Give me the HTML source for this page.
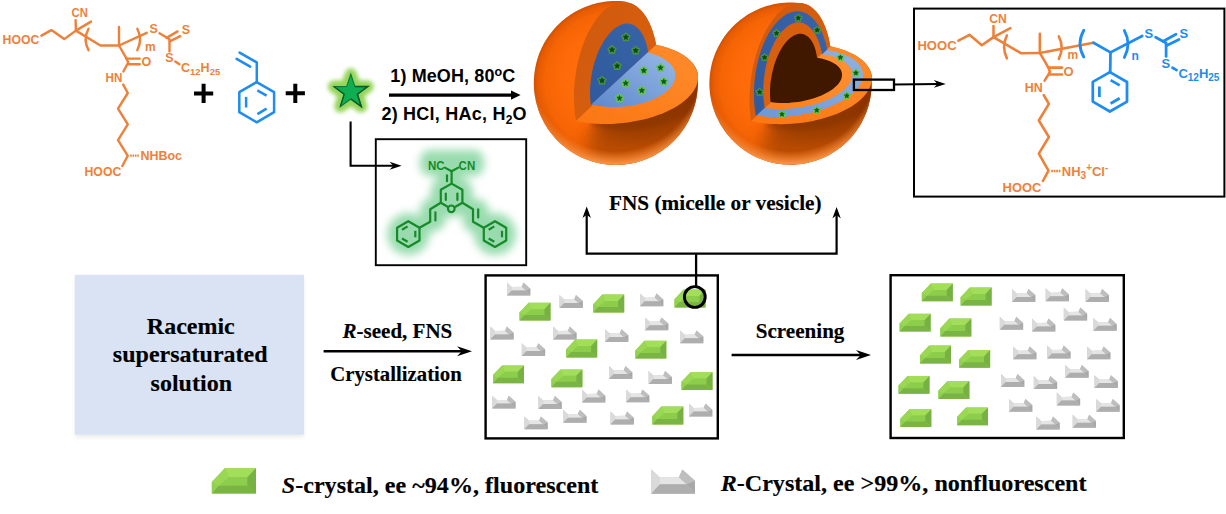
<!DOCTYPE html>
<html lang="en"><head><meta charset="utf-8"><title>FNS chiral crystallization scheme</title>
<style>html,body{margin:0;padding:0;background:#fff;}body{width:1226px;height:514px;overflow:hidden;}svg{display:block;}</style>
</head><body>
<svg width="1226" height="514" viewBox="0 0 1226 514">
<defs>
<filter id="blur3" x="-50%" y="-50%" width="200%" height="200%"><feGaussianBlur stdDeviation="2.2"/></filter>
<filter id="blur5" x="-50%" y="-50%" width="200%" height="200%"><feGaussianBlur stdDeviation="4"/></filter>
<filter id="blur6" x="-50%" y="-50%" width="200%" height="200%"><feGaussianBlur stdDeviation="7"/></filter>
<filter id="blur8" x="-60%" y="-100%" width="220%" height="300%"><feGaussianBlur stdDeviation="9"/></filter>
<radialGradient id="sphga" gradientUnits="userSpaceOnUse" cx="615.8" cy="83.0" r="82.0" fx="607.8" fy="73.0"><stop offset="0" stop-color="#FF7010"/><stop offset="0.6" stop-color="#FE6A08"/><stop offset="0.85" stop-color="#F56405"/><stop offset="0.95" stop-color="#E65B03"/><stop offset="1" stop-color="#D25102"/></radialGradient>
<radialGradient id="sphgb" gradientUnits="userSpaceOnUse" cx="790.5" cy="83.6" r="81.1" fx="782.5" fy="73.6"><stop offset="0" stop-color="#FF7010"/><stop offset="0.6" stop-color="#FE6A08"/><stop offset="0.85" stop-color="#F56405"/><stop offset="0.95" stop-color="#E65B03"/><stop offset="1" stop-color="#D25102"/></radialGradient>
<radialGradient id="sphrim" cx="0.5" cy="0.5" r="0.5"><stop offset="0" stop-color="#FF9440" stop-opacity="0"/><stop offset="0.86" stop-color="#FF9440" stop-opacity="0"/><stop offset="1" stop-color="#FF9848" stop-opacity="1"/></radialGradient>
<linearGradient id="vface" x1="0" y1="0" x2="1" y2="1"><stop offset="0" stop-color="#CE590E"/><stop offset="1" stop-color="#DB610E"/></linearGradient>
<linearGradient id="vface2" x1="0" y1="0" x2="1" y2="1"><stop offset="0" stop-color="#D45C0E"/><stop offset="1" stop-color="#E0660F"/></linearGradient>
<linearGradient id="hface2" x1="0" y1="1" x2="1" y2="0"><stop offset="0" stop-color="#FC7E18"/><stop offset="1" stop-color="#FF9234"/></linearGradient>
<linearGradient id="hface" x1="0" y1="1" x2="1" y2="0"><stop offset="0" stop-color="#FA7612"/><stop offset="1" stop-color="#FF8C2C"/></linearGradient>
<linearGradient id="vblue" x1="0" y1="1" x2="1" y2="0"><stop offset="0" stop-color="#2F5A9E"/><stop offset="1" stop-color="#3863A6"/></linearGradient>
<linearGradient id="hblue" x1="0" y1="1" x2="1" y2="0"><stop offset="0" stop-color="#5D88CC"/><stop offset="1" stop-color="#98B9E6"/></linearGradient>
<linearGradient id="hblue2" x1="0" y1="1" x2="1" y2="0"><stop offset="0" stop-color="#6C97D6"/><stop offset="1" stop-color="#8FB2E2"/></linearGradient>
</defs>
<rect width="1226" height="514" fill="#fff"/>
<text x="2.6" y="43.8" font-family='"Liberation Sans", Arial, sans-serif' font-size="12.5" font-weight="bold" fill="#EE8139" text-anchor="start" textLength="36.8" lengthAdjust="spacingAndGlyphs" >HOOC</text>
<path d="M41.4 35.6 L51.4 30.1 L64.2 39.1 L75.9 30.6" fill="none" stroke="#EE8139" stroke-width="2.4" stroke-linecap="round" stroke-linejoin="round" />
<text x="71.6" y="16.8" font-family='"Liberation Sans", Arial, sans-serif' font-size="12.5" font-weight="bold" fill="#EE8139" text-anchor="start" textLength="16.2" lengthAdjust="spacingAndGlyphs" >CN</text>
<path d="M75.9 30.6 L75.6 20.1" fill="none" stroke="#EE8139" stroke-width="2.4" stroke-linecap="round" stroke-linejoin="round" />
<path d="M75.9 30.6 L91.0 21.6" fill="none" stroke="#EE8139" stroke-width="2.4" stroke-linecap="round" stroke-linejoin="round" />
<path d="M75.9 30.6 L100.4 45.5 L119.0 45.5" fill="none" stroke="#EE8139" stroke-width="2.4" stroke-linecap="round" stroke-linejoin="round" />
<path d="M119.0 45.5 L119.0 26.9" fill="none" stroke="#EE8139" stroke-width="2.4" stroke-linecap="round" stroke-linejoin="round" />
<path d="M119.0 45.5 L146.7 32.8" fill="none" stroke="#EE8139" stroke-width="2.4" stroke-linecap="round" stroke-linejoin="round" />
<path d="M88.5 28.8 Q82.7 39.5 88.5 50.2" fill="none" stroke="#EE8139" stroke-width="2.4" stroke-linecap="round"/>
<path d="M137.3 28.8 Q142.9 39.5 137.3 50.2" fill="none" stroke="#EE8139" stroke-width="2.4" stroke-linecap="round"/>
<text x="145.1" y="51.1" font-family='"Liberation Sans", Arial, sans-serif' font-size="12" font-weight="bold" fill="#EE8139" text-anchor="start" >m</text>
<text x="149.4" y="33.4" font-family='"Liberation Sans", Arial, sans-serif' font-size="12.5" font-weight="bold" fill="#EE8139" text-anchor="start" >S</text>
<path d="M159.5 33.3 L169.5 39.2" fill="none" stroke="#EE8139" stroke-width="2.4" stroke-linecap="round" stroke-linejoin="round" />
<path d="M166.6 37.9 L177.6 31.4" fill="none" stroke="#EE8139" stroke-width="2.4" stroke-linecap="round" stroke-linejoin="round" />
<path d="M169.8 41.4 L180.3 36.2" fill="none" stroke="#EE8139" stroke-width="2.4" stroke-linecap="round" stroke-linejoin="round" />
<text x="181.8" y="34.4" font-family='"Liberation Sans", Arial, sans-serif' font-size="12.5" font-weight="bold" fill="#EE8139" text-anchor="start" >S</text>
<path d="M169.5 40.0 L169.5 51.4" fill="none" stroke="#EE8139" stroke-width="2.4" stroke-linecap="round" stroke-linejoin="round" />
<text x="165.2" y="62.0" font-family='"Liberation Sans", Arial, sans-serif' font-size="12.5" font-weight="bold" fill="#EE8139" text-anchor="start" >S</text>
<path d="M175.3 61.6 L179.4 64.3" fill="none" stroke="#EE8139" stroke-width="2.4" stroke-linecap="round" stroke-linejoin="round" />
<text x="181.0" y="72.0" font-family='"Liberation Sans", Arial, sans-serif' font-size="12.5" font-weight="bold" fill="#EE8139">C<tspan font-size="9.5" dy="2.8">12</tspan><tspan dy="-2.8">H</tspan><tspan font-size="9.5" dy="2.8">25</tspan></text>
<path d="M119.0 45.5 L126.5 58.6" fill="none" stroke="#EE8139" stroke-width="2.4" stroke-linecap="round" stroke-linejoin="round" />
<path d="M126.5 58.6 L139.7 58.6" fill="none" stroke="#EE8139" stroke-width="2.4" stroke-linecap="round" stroke-linejoin="round" />
<path d="M128.0 64.2 L139.7 64.2" fill="none" stroke="#EE8139" stroke-width="2.4" stroke-linecap="round" stroke-linejoin="round" />
<text x="141.6" y="66.0" font-family='"Liberation Sans", Arial, sans-serif' font-size="12.5" font-weight="bold" fill="#EE8139" text-anchor="start" >O</text>
<path d="M126.5 58.6 L128.2 62.5 L123.4 71.5" fill="none" stroke="#EE8139" stroke-width="2.4" stroke-linecap="round" stroke-linejoin="round" />
<text x="105.6" y="81.6" font-family='"Liberation Sans", Arial, sans-serif' font-size="12.5" font-weight="bold" fill="#EE8139" text-anchor="start" textLength="16.8" lengthAdjust="spacingAndGlyphs" >HN</text>
<path d="M123.2 84.6 L127.8 93.0 L118.0 108.6 L127.8 124.4 L118.0 140.1 L127.8 155.8 L122.3 166.0" fill="none" stroke="#EE8139" stroke-width="2.4" stroke-linecap="round" stroke-linejoin="round" />
<path d="M130.2 155.6 H138.8" stroke="#EE8139" stroke-width="2.2" stroke-dasharray="1.6 0.75" fill="none"/>
<text x="140.4" y="160.2" font-family='"Liberation Sans", Arial, sans-serif' font-size="12.5" font-weight="bold" fill="#EE8139" text-anchor="start" textLength="41.6" lengthAdjust="spacingAndGlyphs" >NHBoc</text>
<text x="84.5" y="175.8" font-family='"Liberation Sans", Arial, sans-serif' font-size="12.5" font-weight="bold" fill="#EE8139" text-anchor="start" textLength="36.8" lengthAdjust="spacingAndGlyphs" >HOOC</text>
<path d="M194.0 93.4 H213.2 M203.6 83.80000000000001 V103.0" stroke="#000" stroke-width="4.0" fill="none"/>
<path d="M256.7 82.1 L274.1 92.2 L274.1 112.2 L256.7 122.3 L239.3 112.2 L239.3 92.2 Z" fill="none" stroke="#1E8CF0" stroke-width="2.5" stroke-linejoin="round"/>
<path d="M257.4 90.3 L266.6 95.7" fill="none" stroke="#1E8CF0" stroke-width="2.5" stroke-linecap="butt" stroke-linejoin="round" />
<path d="M266.6 108.7 L257.4 114.1" fill="none" stroke="#1E8CF0" stroke-width="2.5" stroke-linecap="butt" stroke-linejoin="round" />
<path d="M246.1 107.5 L246.1 96.9" fill="none" stroke="#1E8CF0" stroke-width="2.5" stroke-linecap="butt" stroke-linejoin="round" />
<path d="M256.8 81.9 L256.8 62.4 L239.6 52.6" fill="none" stroke="#1E8CF0" stroke-width="2.5" stroke-linecap="round" stroke-linejoin="round" />
<path d="M250.2 66.6 L236.6 58.8" fill="none" stroke="#1E8CF0" stroke-width="2.5" stroke-linecap="round" stroke-linejoin="round" />
<path d="M285.7 93.3 H304.90000000000003 M295.3 83.7 V102.89999999999999" stroke="#000" stroke-width="4.0" fill="none"/>
<path d="M350.8 74.3 L354.9 86.5 L367.7 86.6 L357.4 94.2 L361.3 106.5 L350.8 99.0 L340.3 106.5 L344.2 94.2 L333.9 86.6 L346.7 86.5 Z" fill="#8FD14F" stroke="#8FD14F" stroke-width="12" stroke-linejoin="round" filter="url(#blur3)" opacity="0.95"/>
<path d="M350.8 74.3 L354.9 86.5 L367.7 86.6 L357.4 94.2 L361.3 106.5 L350.8 99.0 L340.3 106.5 L344.2 94.2 L333.9 86.6 L346.7 86.5 Z" fill="#0FAE50" stroke="#0B7A3A" stroke-width="1.1" stroke-linejoin="miter"/>
<path d="M354.9 86.5 L367.7 86.6 L357.4 94.2 L361.3 106.5 L350.8 99.0" fill="none" stroke="#0A5A2C" stroke-width="1.5" stroke-linejoin="miter"/>
<path d="M340.3 106.5 L344.2 94.2 L333.9 86.6" fill="none" stroke="#0A5A2C" stroke-width="1.2" stroke-linejoin="miter"/>
<path d="M389 95.1 H512.0" stroke="#000" stroke-width="3.3" fill="none"/>
<path d="M520.6 95.1 L511.0 90.5 L511.0 99.69999999999999 Z" fill="#000"/>
<text x="390.3" y="82.2" font-family='"Liberation Sans", Arial, sans-serif' font-size="18" font-weight="bold" fill="#000" textLength="125" lengthAdjust="spacing">1) MeOH, 80<tspan font-size="12.5" dy="-6.4">o</tspan><tspan dy="6.4">C</tspan></text>
<text x="381.4" y="120.0" font-family='"Liberation Sans", Arial, sans-serif' font-size="18" font-weight="bold" fill="#000" textLength="145.2" lengthAdjust="spacing">2) HCl, HAc, H<tspan font-size="12" dy="3.8">2</tspan><tspan dy="-3.8">O</tspan></text>
<path d="M350.6 121.6 V165.7 H395" stroke="#000" stroke-width="2.1" fill="none" stroke-linejoin="miter"/>
<path d="M401.6 165.7 L389.6 169.7 L393.2 165.7 L389.6 161.7 Z" fill="#000"/>
<rect x="375.8" y="139.2" width="150.4" height="126" fill="none" stroke="#000" stroke-width="1.9"/>
<g filter="url(#blur5)" opacity="0.9"><path d="M444.9 167.6 L451.6 171.2 L458.3 167.6 M451.6 171.2 L451.6 183.6 M447.0 175.4 L447.0 181.2 M451.6 183.6 L462.4 189.8 L462.4 202.8 L455.4 206.8 M451.6 183.6 L440.8 189.8 L440.8 202.8 L447.6 206.8 M445.8 193.6 L445.8 200.0 M457.4 193.6 L457.4 200.0 M440.8 202.8 L430.2 209.2 L430.2 221.8 L419.5 227.8 M435.4 212.4 L435.4 220.4 M462.4 202.8 L473.0 209.2 L473.0 221.8 L483.7 227.8 M478.2 209.4 L478.2 217.6" stroke="#8ED8A6" stroke-width="20" fill="none" stroke-linecap="round" stroke-linejoin="round"/><circle cx="408.3" cy="234.1" r="21" fill="#8ED8A6"/><circle cx="495.0" cy="234.1" r="21" fill="#8ED8A6"/><rect x="420" y="150" width="64" height="26" rx="10" fill="#8ED8A6"/></g>
<path d="M444.9 167.6 L451.6 171.2 L458.3 167.6" fill="none" stroke="#168A28" stroke-width="2.2" stroke-linecap="round" stroke-linejoin="round" />
<path d="M451.6 171.2 L451.6 183.6" fill="none" stroke="#168A28" stroke-width="2.2" stroke-linecap="round" stroke-linejoin="round" />
<path d="M447.0 175.4 L447.0 181.2" fill="none" stroke="#168A28" stroke-width="2.2" stroke-linecap="round" stroke-linejoin="round" />
<path d="M451.6 183.6 L462.4 189.8 L462.4 202.8 L455.4 206.8" fill="none" stroke="#168A28" stroke-width="2.2" stroke-linecap="round" stroke-linejoin="round" />
<path d="M451.6 183.6 L440.8 189.8 L440.8 202.8 L447.6 206.8" fill="none" stroke="#168A28" stroke-width="2.2" stroke-linecap="round" stroke-linejoin="round" />
<path d="M445.8 193.6 L445.8 200.0" fill="none" stroke="#168A28" stroke-width="2.2" stroke-linecap="round" stroke-linejoin="round" />
<path d="M457.4 193.6 L457.4 200.0" fill="none" stroke="#168A28" stroke-width="2.2" stroke-linecap="round" stroke-linejoin="round" />
<path d="M440.8 202.8 L430.2 209.2 L430.2 221.8 L419.5 227.8" fill="none" stroke="#168A28" stroke-width="2.2" stroke-linecap="round" stroke-linejoin="round" />
<path d="M435.4 212.4 L435.4 220.4" fill="none" stroke="#168A28" stroke-width="2.2" stroke-linecap="round" stroke-linejoin="round" />
<path d="M462.4 202.8 L473.0 209.2 L473.0 221.8 L483.7 227.8" fill="none" stroke="#168A28" stroke-width="2.2" stroke-linecap="round" stroke-linejoin="round" />
<path d="M478.2 209.4 L478.2 217.6" fill="none" stroke="#168A28" stroke-width="2.2" stroke-linecap="round" stroke-linejoin="round" />
<path d="M408.3 221.2 L419.5 227.7 L419.5 240.5 L408.3 247.0 L397.1 240.5 L397.1 227.7 Z" fill="none" stroke="#168A28" stroke-width="2.2" stroke-linejoin="round"/>
<path d="M415.3 230.8 L415.3 237.3" fill="none" stroke="#168A28" stroke-width="2.2" stroke-linecap="butt" stroke-linejoin="round" />
<path d="M407.6 241.8 L402.0 238.5" fill="none" stroke="#168A28" stroke-width="2.2" stroke-linecap="butt" stroke-linejoin="round" />
<path d="M402.0 229.7 L407.6 226.4" fill="none" stroke="#168A28" stroke-width="2.2" stroke-linecap="butt" stroke-linejoin="round" />
<path d="M495.0 221.2 L506.2 227.7 L506.2 240.5 L495.0 247.0 L483.8 240.5 L483.8 227.7 Z" fill="none" stroke="#168A28" stroke-width="2.2" stroke-linejoin="round"/>
<path d="M502.0 230.8 L502.0 237.3" fill="none" stroke="#168A28" stroke-width="2.2" stroke-linecap="butt" stroke-linejoin="round" />
<path d="M494.3 241.8 L488.7 238.5" fill="none" stroke="#168A28" stroke-width="2.2" stroke-linecap="butt" stroke-linejoin="round" />
<path d="M488.7 229.7 L494.3 226.4" fill="none" stroke="#168A28" stroke-width="2.2" stroke-linecap="butt" stroke-linejoin="round" />
<text x="428.0" y="170.0" font-family='"Liberation Sans", Arial, sans-serif' font-size="12" font-weight="bold" fill="#168A28" text-anchor="start" textLength="16.6" lengthAdjust="spacingAndGlyphs" >NC</text>
<text x="458.6" y="170.0" font-family='"Liberation Sans", Arial, sans-serif' font-size="12" font-weight="bold" fill="#168A28" text-anchor="start" textLength="16.6" lengthAdjust="spacingAndGlyphs" >CN</text>
<circle cx="451.3" cy="208.8" r="3.3" fill="none" stroke="#168A28" stroke-width="2.2"/>
<clipPath id="clipa"><path d="M626.2 1.7 L623.3 1.3 L620.4 1.1 L617.5 1.0 L614.6 1.0 L611.8 1.1 L608.9 1.3 L606.0 1.6 L603.1 2.0 L600.3 2.5 L597.5 3.1 L594.7 3.8 L591.9 4.6 L589.2 5.5 L586.4 6.4 L583.8 7.5 L581.1 8.7 L578.5 10.0 L576.0 11.3 L573.5 12.8 L571.0 14.3 L568.7 15.9 L566.3 17.6 L564.0 19.4 L561.8 21.3 L559.7 23.2 L557.6 25.2 L555.6 27.3 L553.7 29.4 L551.9 31.7 L550.1 33.9 L548.4 36.3 L546.8 38.7 L545.3 41.1 L543.9 43.6 L542.5 46.2 L541.3 48.8 L540.1 51.4 L539.0 54.1 L538.1 56.8 L537.2 59.6 L536.4 62.4 L535.8 65.2 L535.2 68.0 L534.7 70.9 L534.3 73.7 L534.1 76.6 L533.9 79.5 L533.8 82.4 L533.8 85.2 L534.0 88.1 L534.2 91.0 L534.5 93.9 L535.0 96.7 L535.5 99.6 L536.1 102.4 L536.9 105.2 L537.7 107.9 L538.6 110.7 L539.6 113.4 L540.7 116.0 L542.0 118.7 L543.3 121.2 L544.6 123.8 L546.1 126.2 L547.7 128.7 L549.3 131.0 L551.1 133.3 L552.9 135.6 L554.8 137.8 L556.7 139.9 L558.8 141.9 L560.9 143.9 L563.1 145.8 L565.3 147.6 L567.6 149.3 L570.0 151.0 L572.4 152.6 L574.9 154.1 L577.4 155.5 L580.0 156.8 L582.6 158.0 L585.3 159.1 L588.0 160.1 L590.7 161.1 L593.4 161.9 L596.2 162.6 L599.1 163.3 L601.9 163.8 L604.7 164.3 L607.6 164.6 L610.5 164.8 L613.4 165.0 L616.3 165.0 L619.1 164.9 L622.0 164.8 L624.9 164.5 L627.8 164.1 L630.6 163.7 L633.4 163.1 L636.2 162.4 L639.0 161.6 L641.8 160.8 L644.5 159.8 L647.2 158.8 L649.8 157.6 L652.4 156.4 L655.0 155.0 L657.5 153.6 L660.0 152.1 L662.4 150.5 L664.7 148.8 L667.0 147.1 L669.2 145.2 L671.4 143.3 L673.5 141.3 L675.5 139.2 L677.4 137.1 L679.3 134.9 L681.1 132.6 L682.8 130.3 L684.4 127.9 L685.9 125.5 L687.4 123.0 L688.8 120.4 L690.0 117.8 L691.2 115.2 L692.3 112.5 L693.3 109.8 L694.2 107.1 L695.0 104.3 L695.7 101.5 L696.3 98.7 L696.8 95.8 L697.2 93.0 L697.5 90.1 L697.7 87.2 L697.8 84.3 L697.8 81.5 L697.7 78.6 L697.5 75.7 L697.9 75.7 L697.8 74.8 L697.7 74.0 L697.5 73.1 L697.3 72.3 L697.1 71.4 L696.8 70.6 L696.5 69.8 L696.1 68.9 L695.7 68.1 L695.3 67.3 L694.9 66.5 L694.4 65.7 L693.8 64.9 L693.3 64.2 L692.7 63.4 L692.1 62.6 L691.4 61.9 L690.7 61.1 L690.0 60.4 L689.2 59.7 L688.4 59.0 L687.6 58.3 L686.7 57.6 L685.8 56.9 L684.9 56.2 L683.9 55.6 L682.9 54.9 L681.9 54.3 L680.9 53.7 L679.8 53.1 L678.7 52.5 L677.6 51.9 L676.4 51.3 L675.2 50.8 L674.0 50.3 L672.8 49.7 L671.5 49.2 L670.2 48.7 L668.9 48.3 L667.6 47.8 L666.2 47.4 L664.8 46.9 L663.4 46.5 L662.0 46.1 L660.6 45.7 L659.1 45.4 L657.6 45.0 L656.1 44.7 L655.8 43.2 L655.5 41.7 L655.2 40.3 L654.8 38.8 L654.5 37.4 L654.1 36.0 L653.7 34.6 L653.3 33.2 L652.9 31.9 L652.5 30.6 L652.0 29.3 L651.5 28.0 L651.0 26.8 L650.5 25.6 L650.0 24.4 L649.5 23.2 L648.9 22.1 L648.4 21.0 L647.8 19.9 L647.2 18.8 L646.6 17.8 L646.0 16.8 L645.3 15.8 L644.7 14.9 L644.0 14.0 L643.4 13.1 L642.7 12.2 L642.0 11.4 L641.3 10.6 L640.6 9.9 L639.8 9.2 L639.1 8.5 L638.3 7.8 L637.6 7.2 L636.8 6.6 L636.0 6.1 L635.2 5.6 L634.4 5.1 L633.6 4.6 L632.8 4.2 L632.0 3.8 L631.2 3.5 L630.3 3.2 L629.5 2.9 L628.7 2.7 L627.8 2.5 L627.0 2.3 L626.1 2.2 Z"/></clipPath>
<path d="M626.2 1.7 L623.3 1.3 L620.4 1.1 L617.5 1.0 L614.6 1.0 L611.8 1.1 L608.9 1.3 L606.0 1.6 L603.1 2.0 L600.3 2.5 L597.5 3.1 L594.7 3.8 L591.9 4.6 L589.2 5.5 L586.4 6.4 L583.8 7.5 L581.1 8.7 L578.5 10.0 L576.0 11.3 L573.5 12.8 L571.0 14.3 L568.7 15.9 L566.3 17.6 L564.0 19.4 L561.8 21.3 L559.7 23.2 L557.6 25.2 L555.6 27.3 L553.7 29.4 L551.9 31.7 L550.1 33.9 L548.4 36.3 L546.8 38.7 L545.3 41.1 L543.9 43.6 L542.5 46.2 L541.3 48.8 L540.1 51.4 L539.0 54.1 L538.1 56.8 L537.2 59.6 L536.4 62.4 L535.8 65.2 L535.2 68.0 L534.7 70.9 L534.3 73.7 L534.1 76.6 L533.9 79.5 L533.8 82.4 L533.8 85.2 L534.0 88.1 L534.2 91.0 L534.5 93.9 L535.0 96.7 L535.5 99.6 L536.1 102.4 L536.9 105.2 L537.7 107.9 L538.6 110.7 L539.6 113.4 L540.7 116.0 L542.0 118.7 L543.3 121.2 L544.6 123.8 L546.1 126.2 L547.7 128.7 L549.3 131.0 L551.1 133.3 L552.9 135.6 L554.8 137.8 L556.7 139.9 L558.8 141.9 L560.9 143.9 L563.1 145.8 L565.3 147.6 L567.6 149.3 L570.0 151.0 L572.4 152.6 L574.9 154.1 L577.4 155.5 L580.0 156.8 L582.6 158.0 L585.3 159.1 L588.0 160.1 L590.7 161.1 L593.4 161.9 L596.2 162.6 L599.1 163.3 L601.9 163.8 L604.7 164.3 L607.6 164.6 L610.5 164.8 L613.4 165.0 L616.3 165.0 L619.1 164.9 L622.0 164.8 L624.9 164.5 L627.8 164.1 L630.6 163.7 L633.4 163.1 L636.2 162.4 L639.0 161.6 L641.8 160.8 L644.5 159.8 L647.2 158.8 L649.8 157.6 L652.4 156.4 L655.0 155.0 L657.5 153.6 L660.0 152.1 L662.4 150.5 L664.7 148.8 L667.0 147.1 L669.2 145.2 L671.4 143.3 L673.5 141.3 L675.5 139.2 L677.4 137.1 L679.3 134.9 L681.1 132.6 L682.8 130.3 L684.4 127.9 L685.9 125.5 L687.4 123.0 L688.8 120.4 L690.0 117.8 L691.2 115.2 L692.3 112.5 L693.3 109.8 L694.2 107.1 L695.0 104.3 L695.7 101.5 L696.3 98.7 L696.8 95.8 L697.2 93.0 L697.5 90.1 L697.7 87.2 L697.8 84.3 L697.8 81.5 L697.7 78.6 L697.5 75.7 L697.9 75.7 L697.8 74.8 L697.7 74.0 L697.5 73.1 L697.3 72.3 L697.1 71.4 L696.8 70.6 L696.5 69.8 L696.1 68.9 L695.7 68.1 L695.3 67.3 L694.9 66.5 L694.4 65.7 L693.8 64.9 L693.3 64.2 L692.7 63.4 L692.1 62.6 L691.4 61.9 L690.7 61.1 L690.0 60.4 L689.2 59.7 L688.4 59.0 L687.6 58.3 L686.7 57.6 L685.8 56.9 L684.9 56.2 L683.9 55.6 L682.9 54.9 L681.9 54.3 L680.9 53.7 L679.8 53.1 L678.7 52.5 L677.6 51.9 L676.4 51.3 L675.2 50.8 L674.0 50.3 L672.8 49.7 L671.5 49.2 L670.2 48.7 L668.9 48.3 L667.6 47.8 L666.2 47.4 L664.8 46.9 L663.4 46.5 L662.0 46.1 L660.6 45.7 L659.1 45.4 L657.6 45.0 L656.1 44.7 L655.8 43.2 L655.5 41.7 L655.2 40.3 L654.8 38.8 L654.5 37.4 L654.1 36.0 L653.7 34.6 L653.3 33.2 L652.9 31.9 L652.5 30.6 L652.0 29.3 L651.5 28.0 L651.0 26.8 L650.5 25.6 L650.0 24.4 L649.5 23.2 L648.9 22.1 L648.4 21.0 L647.8 19.9 L647.2 18.8 L646.6 17.8 L646.0 16.8 L645.3 15.8 L644.7 14.9 L644.0 14.0 L643.4 13.1 L642.7 12.2 L642.0 11.4 L641.3 10.6 L640.6 9.9 L639.8 9.2 L639.1 8.5 L638.3 7.8 L637.6 7.2 L636.8 6.6 L636.0 6.1 L635.2 5.6 L634.4 5.1 L633.6 4.6 L632.8 4.2 L632.0 3.8 L631.2 3.5 L630.3 3.2 L629.5 2.9 L628.7 2.7 L627.8 2.5 L627.0 2.3 L626.1 2.2 Z" fill="url(#sphga)"/>
<g clip-path="url(#clipa)">
<path d="M668.1 57.7 L672.7 59.2 L677.1 60.8 L681.3 62.6 L685.2 64.5 L688.9 66.5 L692.4 68.7 L695.6 71.0 L698.5 73.4 L701.1 75.9 L703.3 78.5 L705.3 81.1 L706.9 83.9 L708.2 86.6 L709.1 89.4 L709.7 92.3 L710.0 95.1 L709.9 98.0 L709.4 100.8 L708.6 103.7 L707.5 106.5 L706.0 109.2 L704.2 111.9 L702.0 114.5 L699.6 117.1 L696.8 119.5 L693.7 121.9 L690.4 124.1 L686.8 126.2 L682.9 128.2 L678.8 130.1 L674.5 131.8 L670.0 133.3 L665.3 134.7 L660.4 135.9 L655.5 137.0 L650.4 137.9 L645.1 138.6 L639.9 139.1 L634.5 139.4 L629.2 139.6 L623.8 139.5 L618.5 139.3 L613.2 138.9 L608.0 138.3 L602.8 137.5 L597.8 136.5 L592.9 135.4 L588.1 134.1 Z" fill="#7A2E00" opacity="0.6" filter="url(#blur6)"/>
<path d="M670.1 49.7 L674.7 50.9 L679.1 52.3 L683.3 53.8 L687.2 55.4 L690.9 57.2 L694.4 59.2 L697.6 61.2 L700.5 63.4 L703.1 65.7 L705.3 68.0 L707.3 70.5 L708.9 73.0 L710.2 75.6 L711.1 78.3 L711.7 80.9 L712.0 83.7 L711.9 86.4 L711.4 89.1 L710.6 91.9 L709.5 94.6 L708.0 97.3 L706.2 99.9 L704.0 102.5 L701.6 105.1 L698.8 107.5 L695.7 109.9 L692.4 112.2 L688.8 114.4 L684.9 116.4 L680.8 118.4 L676.5 120.2 L672.0 121.9 L667.3 123.4 L662.4 124.8 L657.5 126.0 L652.4 127.0 L647.1 127.9 L641.9 128.7 L636.5 129.2 L631.2 129.6 L625.8 129.8 L620.5 129.8 L615.2 129.6 L610.0 129.2 L604.8 128.7 L599.8 128.0 L594.9 127.1 L590.1 126.1 Z" fill="#702800" opacity="0.45" filter="url(#blur3)"/>
<ellipse cx="639.8" cy="138.0" rx="56" ry="22" fill="#8E3A00" opacity="0.6" filter="url(#blur8)" transform="rotate(-14 639.8 138.0)"/>
<circle cx="615.8" cy="67.0" r="98.0" fill="url(#sphrim)"/>
</g>
<path d="M656.1 44.7 L655.2 40.1 L654.0 35.7 L652.8 31.5 L651.3 27.5 L649.8 23.8 L648.0 20.3 L646.2 17.1 L644.2 14.2 L642.1 11.5 L639.8 9.2 L637.5 7.2 L635.1 5.5 L632.6 4.1 L630.0 3.1 L627.4 2.4 L624.7 2.0 L622.0 2.0 L619.3 2.4 L616.5 3.1 L613.8 4.1 L611.0 5.5 L608.3 7.2 L605.6 9.2 L603.0 11.6 L600.4 14.2 L597.9 17.2 L595.4 20.4 L593.1 23.9 L590.8 27.7 L588.7 31.6 L586.6 35.8 L584.7 40.2 L583.0 44.8 L581.3 49.6 L579.9 54.5 L578.5 59.5 L577.4 64.6 L576.4 69.8 L575.5 75.0 L574.9 80.3 L574.4 85.6 L574.1 90.9 L574.0 96.1 L574.1 101.3 L574.3 106.5 L574.7 111.5 L575.3 116.4 L576.1 121.1 Z" fill="url(#vface)"/>
<path d="M656.1 44.7 L660.7 45.8 L665.1 47.0 L669.3 48.4 L673.2 49.9 L676.9 51.6 L680.4 53.4 L683.6 55.3 L686.5 57.4 L689.1 59.6 L691.3 61.8 L693.3 64.2 L694.9 66.6 L696.2 69.1 L697.1 71.7 L697.7 74.3 L698.0 76.9 L697.9 79.6 L697.4 82.3 L696.6 85.0 L695.5 87.7 L694.0 90.3 L692.2 92.9 L690.0 95.5 L687.6 98.1 L684.8 100.5 L681.7 102.9 L678.4 105.2 L674.8 107.4 L670.9 109.5 L666.8 111.5 L662.5 113.4 L658.0 115.1 L653.3 116.7 L648.4 118.2 L643.5 119.5 L638.4 120.6 L633.1 121.6 L627.9 122.4 L622.5 123.1 L617.2 123.6 L611.8 123.9 L606.5 124.0 L601.2 123.9 L596.0 123.7 L590.8 123.3 L585.8 122.8 L580.9 122.0 L576.1 121.1 Z" fill="url(#hface)"/>
<path d="M647.7 52.4 L647.2 49.3 L646.6 46.4 L645.8 43.6 L645.0 40.9 L644.0 38.4 L643.0 36.1 L641.8 33.9 L640.5 32.0 L639.2 30.2 L637.8 28.7 L636.2 27.3 L634.7 26.2 L633.0 25.3 L631.3 24.7 L629.5 24.2 L627.7 24.0 L625.9 24.0 L624.0 24.3 L622.2 24.8 L620.3 25.5 L618.4 26.5 L616.5 27.6 L614.6 29.0 L612.7 30.6 L610.9 32.4 L609.1 34.4 L607.4 36.6 L605.7 39.0 L604.0 41.5 L602.5 44.2 L601.0 47.0 L599.5 50.0 L598.2 53.1 L597.0 56.3 L595.8 59.6 L594.8 63.0 L593.8 66.4 L593.0 69.9 L592.3 73.5 L591.7 77.0 L591.2 80.6 L590.9 84.1 L590.6 87.7 L590.5 91.1 L590.5 94.6 L590.7 97.9 L590.9 101.2 L591.3 104.4 Z" fill="url(#vblue)" stroke="url(#vblue)" stroke-width="0.9" stroke-linejoin="round"/>
<path d="M647.7 52.4 L650.8 53.2 L653.8 54.2 L656.6 55.2 L659.2 56.4 L661.7 57.6 L664.0 58.9 L666.1 60.4 L668.1 61.8 L669.8 63.4 L671.3 65.0 L672.5 66.7 L673.6 68.4 L674.4 70.2 L675.0 72.0 L675.3 73.9 L675.4 75.7 L675.3 77.6 L674.9 79.5 L674.3 81.3 L673.4 83.2 L672.3 85.0 L671.0 86.8 L669.5 88.6 L667.8 90.3 L665.8 92.0 L663.7 93.6 L661.3 95.2 L658.8 96.6 L656.1 98.0 L653.3 99.4 L650.3 100.6 L647.2 101.7 L644.0 102.8 L640.6 103.7 L637.2 104.5 L633.7 105.2 L630.1 105.8 L626.5 106.3 L622.9 106.6 L619.2 106.9 L615.6 107.0 L611.9 107.0 L608.3 106.9 L604.8 106.6 L601.3 106.2 L597.8 105.7 L594.5 105.1 L591.3 104.4 Z" fill="url(#hblue)"/>
<path d="M625.9 32.9 L627.7 34.7 L630.0 35.9 L628.8 38.2 L628.4 40.7 L625.9 40.3 L623.4 40.7 L623.0 38.2 L621.8 35.9 L624.1 34.7 Z" fill="#4E9A38" stroke="#4E9A38" stroke-width="1.2" stroke-linejoin="round" opacity="0.85"/>
<path d="M625.9 34.4 L626.6 36.2 L628.6 36.3 L627.1 37.6 L627.5 39.5 L625.9 38.5 L624.3 39.5 L624.7 37.6 L623.2 36.3 L625.2 36.2 Z" fill="#0A4612" stroke="#0A4612" stroke-width="0.7"/>
<path d="M612.0 45.5 L613.8 47.3 L616.1 48.5 L614.9 50.8 L614.5 53.3 L612.0 52.9 L609.5 53.3 L609.1 50.8 L607.9 48.5 L610.2 47.3 Z" fill="#4E9A38" stroke="#4E9A38" stroke-width="1.2" stroke-linejoin="round" opacity="0.85"/>
<path d="M612.0 47.0 L612.7 48.8 L614.7 48.9 L613.2 50.2 L613.6 52.1 L612.0 51.1 L610.4 52.1 L610.8 50.2 L609.3 48.9 L611.3 48.8 Z" fill="#0A4612" stroke="#0A4612" stroke-width="0.7"/>
<path d="M635.7 46.2 L637.5 48.0 L639.8 49.2 L638.6 51.5 L638.2 54.0 L635.7 53.6 L633.2 54.0 L632.8 51.5 L631.6 49.2 L633.9 48.0 Z" fill="#4E9A38" stroke="#4E9A38" stroke-width="1.2" stroke-linejoin="round" opacity="0.85"/>
<path d="M635.7 47.7 L636.4 49.5 L638.4 49.6 L636.9 50.9 L637.3 52.8 L635.7 51.8 L634.1 52.8 L634.5 50.9 L633.0 49.6 L635.0 49.5 Z" fill="#0A4612" stroke="#0A4612" stroke-width="0.7"/>
<path d="M617.2 61.7 L619.0 63.5 L621.3 64.7 L620.1 67.0 L619.7 69.5 L617.2 69.1 L614.7 69.5 L614.3 67.0 L613.1 64.7 L615.4 63.5 Z" fill="#4E9A38" stroke="#4E9A38" stroke-width="1.2" stroke-linejoin="round" opacity="0.85"/>
<path d="M617.2 63.2 L617.9 65.0 L619.9 65.1 L618.4 66.4 L618.8 68.3 L617.2 67.3 L615.6 68.3 L616.0 66.4 L614.5 65.1 L616.5 65.0 Z" fill="#0A4612" stroke="#0A4612" stroke-width="0.7"/>
<path d="M602.0 76.3 L603.8 78.1 L606.1 79.3 L604.9 81.6 L604.5 84.1 L602.0 83.7 L599.5 84.1 L599.1 81.6 L597.9 79.3 L600.2 78.1 Z" fill="#4E9A38" stroke="#4E9A38" stroke-width="1.2" stroke-linejoin="round" opacity="0.85"/>
<path d="M602.0 77.8 L602.7 79.6 L604.7 79.7 L603.2 81.0 L603.6 82.9 L602.0 81.9 L600.4 82.9 L600.8 81.0 L599.3 79.7 L601.3 79.6 Z" fill="#0A4612" stroke="#0A4612" stroke-width="0.7"/>
<path d="M643.8 66.3 L645.6 68.1 L647.9 69.3 L646.7 71.6 L646.3 74.1 L643.8 73.7 L641.3 74.1 L640.9 71.6 L639.7 69.3 L642.0 68.1 Z" fill="#66C846" stroke="#66C846" stroke-width="1.2" stroke-linejoin="round" opacity="0.9"/>
<path d="M643.8 67.8 L644.5 69.6 L646.5 69.7 L645.0 71.0 L645.4 72.9 L643.8 71.9 L642.2 72.9 L642.6 71.0 L641.1 69.7 L643.1 69.6 Z" fill="#0A5A1C" stroke="#0A5A1C" stroke-width="0.7"/>
<path d="M660.5 63.5 L662.3 65.3 L664.6 66.5 L663.4 68.8 L663.0 71.3 L660.5 70.9 L658.0 71.3 L657.6 68.8 L656.4 66.5 L658.7 65.3 Z" fill="#66C846" stroke="#66C846" stroke-width="1.2" stroke-linejoin="round" opacity="0.9"/>
<path d="M660.5 65.0 L661.2 66.8 L663.2 66.9 L661.7 68.2 L662.1 70.1 L660.5 69.1 L658.9 70.1 L659.3 68.2 L657.8 66.9 L659.8 66.8 Z" fill="#0A5A1C" stroke="#0A5A1C" stroke-width="0.7"/>
<path d="M663.8 77.3 L665.6 79.1 L667.9 80.3 L666.7 82.6 L666.3 85.1 L663.8 84.7 L661.3 85.1 L660.9 82.6 L659.7 80.3 L662.0 79.1 Z" fill="#66C846" stroke="#66C846" stroke-width="1.2" stroke-linejoin="round" opacity="0.9"/>
<path d="M663.8 78.8 L664.5 80.6 L666.5 80.7 L665.0 82.0 L665.4 83.9 L663.8 82.9 L662.2 83.9 L662.6 82.0 L661.1 80.7 L663.1 80.6 Z" fill="#0A5A1C" stroke="#0A5A1C" stroke-width="0.7"/>
<path d="M625.7 79.0 L627.5 80.8 L629.8 82.0 L628.6 84.3 L628.2 86.8 L625.7 86.4 L623.2 86.8 L622.8 84.3 L621.6 82.0 L623.9 80.8 Z" fill="#66C846" stroke="#66C846" stroke-width="1.2" stroke-linejoin="round" opacity="0.9"/>
<path d="M625.7 80.5 L626.4 82.3 L628.4 82.4 L626.9 83.7 L627.3 85.6 L625.7 84.6 L624.1 85.6 L624.5 83.7 L623.0 82.4 L625.0 82.3 Z" fill="#0A5A1C" stroke="#0A5A1C" stroke-width="0.7"/>
<path d="M641.8 86.2 L643.6 88.0 L645.9 89.2 L644.7 91.5 L644.3 94.0 L641.8 93.6 L639.3 94.0 L638.9 91.5 L637.7 89.2 L640.0 88.0 Z" fill="#66C846" stroke="#66C846" stroke-width="1.2" stroke-linejoin="round" opacity="0.9"/>
<path d="M641.8 87.7 L642.5 89.5 L644.5 89.6 L643.0 90.9 L643.4 92.8 L641.8 91.8 L640.2 92.8 L640.6 90.9 L639.1 89.6 L641.1 89.5 Z" fill="#0A5A1C" stroke="#0A5A1C" stroke-width="0.7"/>
<path d="M619.5 93.9 L621.3 95.7 L623.6 96.9 L622.4 99.2 L622.0 101.7 L619.5 101.3 L617.0 101.7 L616.6 99.2 L615.4 96.9 L617.7 95.7 Z" fill="#66C846" stroke="#66C846" stroke-width="1.2" stroke-linejoin="round" opacity="0.9"/>
<path d="M619.5 95.4 L620.2 97.2 L622.2 97.3 L620.7 98.6 L621.1 100.5 L619.5 99.5 L617.9 100.5 L618.3 98.6 L616.8 97.3 L618.8 97.2 Z" fill="#0A5A1C" stroke="#0A5A1C" stroke-width="0.7"/>
<clipPath id="clipb"><path d="M801.8 3.3 L798.9 2.9 L796.1 2.7 L793.2 2.5 L790.4 2.5 L787.5 2.6 L784.7 2.7 L781.8 3.0 L779.0 3.3 L776.1 3.8 L773.3 4.3 L770.6 5.0 L767.8 5.7 L765.1 6.6 L762.4 7.5 L759.7 8.6 L757.1 9.7 L754.5 10.9 L752.0 12.2 L749.5 13.6 L747.0 15.1 L744.7 16.7 L742.3 18.4 L740.1 20.1 L737.9 21.9 L735.7 23.8 L733.6 25.8 L731.6 27.8 L729.7 29.9 L727.9 32.1 L726.1 34.3 L724.4 36.6 L722.8 39.0 L721.2 41.4 L719.8 43.9 L718.4 46.4 L717.2 48.9 L716.0 51.5 L714.9 54.2 L713.9 56.9 L713.0 59.6 L712.2 62.3 L711.5 65.1 L710.9 67.9 L710.4 70.7 L710.0 73.5 L709.7 76.4 L709.5 79.2 L709.4 82.1 L709.4 84.9 L709.5 87.8 L709.7 90.6 L710.0 93.5 L710.4 96.3 L710.9 99.1 L711.5 101.9 L712.2 104.7 L713.0 107.4 L713.9 110.1 L714.8 112.8 L715.9 115.5 L717.1 118.1 L718.4 120.6 L719.7 123.2 L721.1 125.6 L722.7 128.0 L724.3 130.4 L726.0 132.7 L727.7 135.0 L729.6 137.1 L731.5 139.2 L733.5 141.3 L735.6 143.3 L737.7 145.2 L739.9 147.0 L742.2 148.7 L744.5 150.4 L746.9 152.0 L749.3 153.5 L751.8 154.9 L754.3 156.2 L756.9 157.4 L759.5 158.6 L762.2 159.6 L764.9 160.5 L767.6 161.4 L770.4 162.2 L773.1 162.8 L775.9 163.4 L778.8 163.8 L781.6 164.2 L784.4 164.5 L787.3 164.6 L790.2 164.7 L793.0 164.7 L795.9 164.5 L798.7 164.3 L801.5 163.9 L804.4 163.5 L807.2 163.0 L810.0 162.3 L812.7 161.6 L815.5 160.8 L818.2 159.8 L820.8 158.8 L823.5 157.7 L826.0 156.5 L828.6 155.2 L831.1 153.8 L833.5 152.3 L835.9 150.8 L838.3 149.1 L840.6 147.4 L842.8 145.6 L844.9 143.7 L847.0 141.8 L849.0 139.8 L851.0 137.7 L852.8 135.5 L854.6 133.3 L856.3 131.0 L858.0 128.6 L859.5 126.2 L861.0 123.8 L862.3 121.3 L863.6 118.7 L864.8 116.1 L865.9 113.5 L866.9 110.8 L867.8 108.1 L868.6 105.4 L869.3 102.6 L870.0 99.8 L870.5 97.0 L870.9 94.2 L871.2 91.3 L871.5 88.5 L871.6 85.6 L871.6 82.8 L871.5 79.9 L871.3 77.1 L871.7 77.0 L871.6 76.2 L871.5 75.3 L871.4 74.5 L871.2 73.7 L870.9 72.8 L870.7 72.0 L870.4 71.2 L870.0 70.4 L869.6 69.6 L869.2 68.8 L868.8 68.0 L868.3 67.2 L867.8 66.4 L867.2 65.6 L866.6 64.9 L866.0 64.1 L865.4 63.4 L864.7 62.6 L863.9 61.9 L863.2 61.2 L862.4 60.5 L861.6 59.8 L860.7 59.1 L859.8 58.4 L858.9 57.8 L858.0 57.1 L857.0 56.5 L856.0 55.8 L854.9 55.2 L853.9 54.6 L852.8 54.0 L851.7 53.5 L850.5 52.9 L849.3 52.4 L848.1 51.8 L846.9 51.3 L845.6 50.8 L844.3 50.3 L843.0 49.8 L841.7 49.4 L840.4 48.9 L839.0 48.5 L837.6 48.1 L836.2 47.7 L834.7 47.3 L833.3 47.0 L831.8 46.6 L830.3 46.3 L830.0 44.8 L829.8 43.3 L829.5 41.8 L829.2 40.4 L828.9 38.9 L828.5 37.5 L828.2 36.1 L827.8 34.7 L827.4 33.4 L827.0 32.1 L826.6 30.8 L826.2 29.5 L825.7 28.2 L825.2 27.0 L824.7 25.8 L824.2 24.6 L823.7 23.4 L823.2 22.3 L822.7 21.2 L822.1 20.1 L821.5 19.1 L820.9 18.1 L820.3 17.1 L819.7 16.1 L819.1 15.2 L818.5 14.3 L817.8 13.5 L817.1 12.6 L816.5 11.8 L815.8 11.1 L815.1 10.4 L814.4 9.7 L813.6 9.0 L812.9 8.4 L812.2 7.8 L811.4 7.2 L810.7 6.7 L809.9 6.2 L809.1 5.7 L808.3 5.3 L807.5 4.9 L806.7 4.6 L805.9 4.2 L805.1 4.0 L804.3 3.7 L803.4 3.5 L802.6 3.3 L801.8 3.2 Z"/></clipPath>
<path d="M801.8 3.3 L798.9 2.9 L796.1 2.7 L793.2 2.5 L790.4 2.5 L787.5 2.6 L784.7 2.7 L781.8 3.0 L779.0 3.3 L776.1 3.8 L773.3 4.3 L770.6 5.0 L767.8 5.7 L765.1 6.6 L762.4 7.5 L759.7 8.6 L757.1 9.7 L754.5 10.9 L752.0 12.2 L749.5 13.6 L747.0 15.1 L744.7 16.7 L742.3 18.4 L740.1 20.1 L737.9 21.9 L735.7 23.8 L733.6 25.8 L731.6 27.8 L729.7 29.9 L727.9 32.1 L726.1 34.3 L724.4 36.6 L722.8 39.0 L721.2 41.4 L719.8 43.9 L718.4 46.4 L717.2 48.9 L716.0 51.5 L714.9 54.2 L713.9 56.9 L713.0 59.6 L712.2 62.3 L711.5 65.1 L710.9 67.9 L710.4 70.7 L710.0 73.5 L709.7 76.4 L709.5 79.2 L709.4 82.1 L709.4 84.9 L709.5 87.8 L709.7 90.6 L710.0 93.5 L710.4 96.3 L710.9 99.1 L711.5 101.9 L712.2 104.7 L713.0 107.4 L713.9 110.1 L714.8 112.8 L715.9 115.5 L717.1 118.1 L718.4 120.6 L719.7 123.2 L721.1 125.6 L722.7 128.0 L724.3 130.4 L726.0 132.7 L727.7 135.0 L729.6 137.1 L731.5 139.2 L733.5 141.3 L735.6 143.3 L737.7 145.2 L739.9 147.0 L742.2 148.7 L744.5 150.4 L746.9 152.0 L749.3 153.5 L751.8 154.9 L754.3 156.2 L756.9 157.4 L759.5 158.6 L762.2 159.6 L764.9 160.5 L767.6 161.4 L770.4 162.2 L773.1 162.8 L775.9 163.4 L778.8 163.8 L781.6 164.2 L784.4 164.5 L787.3 164.6 L790.2 164.7 L793.0 164.7 L795.9 164.5 L798.7 164.3 L801.5 163.9 L804.4 163.5 L807.2 163.0 L810.0 162.3 L812.7 161.6 L815.5 160.8 L818.2 159.8 L820.8 158.8 L823.5 157.7 L826.0 156.5 L828.6 155.2 L831.1 153.8 L833.5 152.3 L835.9 150.8 L838.3 149.1 L840.6 147.4 L842.8 145.6 L844.9 143.7 L847.0 141.8 L849.0 139.8 L851.0 137.7 L852.8 135.5 L854.6 133.3 L856.3 131.0 L858.0 128.6 L859.5 126.2 L861.0 123.8 L862.3 121.3 L863.6 118.7 L864.8 116.1 L865.9 113.5 L866.9 110.8 L867.8 108.1 L868.6 105.4 L869.3 102.6 L870.0 99.8 L870.5 97.0 L870.9 94.2 L871.2 91.3 L871.5 88.5 L871.6 85.6 L871.6 82.8 L871.5 79.9 L871.3 77.1 L871.7 77.0 L871.6 76.2 L871.5 75.3 L871.4 74.5 L871.2 73.7 L870.9 72.8 L870.7 72.0 L870.4 71.2 L870.0 70.4 L869.6 69.6 L869.2 68.8 L868.8 68.0 L868.3 67.2 L867.8 66.4 L867.2 65.6 L866.6 64.9 L866.0 64.1 L865.4 63.4 L864.7 62.6 L863.9 61.9 L863.2 61.2 L862.4 60.5 L861.6 59.8 L860.7 59.1 L859.8 58.4 L858.9 57.8 L858.0 57.1 L857.0 56.5 L856.0 55.8 L854.9 55.2 L853.9 54.6 L852.8 54.0 L851.7 53.5 L850.5 52.9 L849.3 52.4 L848.1 51.8 L846.9 51.3 L845.6 50.8 L844.3 50.3 L843.0 49.8 L841.7 49.4 L840.4 48.9 L839.0 48.5 L837.6 48.1 L836.2 47.7 L834.7 47.3 L833.3 47.0 L831.8 46.6 L830.3 46.3 L830.0 44.8 L829.8 43.3 L829.5 41.8 L829.2 40.4 L828.9 38.9 L828.5 37.5 L828.2 36.1 L827.8 34.7 L827.4 33.4 L827.0 32.1 L826.6 30.8 L826.2 29.5 L825.7 28.2 L825.2 27.0 L824.7 25.8 L824.2 24.6 L823.7 23.4 L823.2 22.3 L822.7 21.2 L822.1 20.1 L821.5 19.1 L820.9 18.1 L820.3 17.1 L819.7 16.1 L819.1 15.2 L818.5 14.3 L817.8 13.5 L817.1 12.6 L816.5 11.8 L815.8 11.1 L815.1 10.4 L814.4 9.7 L813.6 9.0 L812.9 8.4 L812.2 7.8 L811.4 7.2 L810.7 6.7 L809.9 6.2 L809.1 5.7 L808.3 5.3 L807.5 4.9 L806.7 4.6 L805.9 4.2 L805.1 4.0 L804.3 3.7 L803.4 3.5 L802.6 3.3 L801.8 3.2 Z" fill="url(#sphgb)"/>
<g clip-path="url(#clipb)">
<path d="M842.3 59.3 L846.8 60.8 L851.2 62.4 L855.3 64.1 L859.3 66.0 L862.9 68.1 L866.4 70.2 L869.5 72.5 L872.4 74.8 L874.9 77.3 L877.2 79.9 L879.1 82.5 L880.7 85.2 L882.0 87.9 L883.0 90.7 L883.5 93.5 L883.8 96.3 L883.7 99.1 L883.2 101.9 L882.4 104.7 L881.3 107.4 L879.8 110.1 L878.0 112.8 L875.9 115.3 L873.5 117.8 L870.7 120.2 L867.7 122.5 L864.4 124.7 L860.8 126.8 L857.0 128.8 L852.9 130.6 L848.7 132.2 L844.2 133.8 L839.5 135.1 L834.7 136.3 L829.8 137.3 L824.7 138.2 L819.6 138.9 L814.4 139.4 L809.1 139.7 L803.8 139.8 L798.5 139.7 L793.2 139.5 L788.0 139.1 L782.8 138.5 L777.7 137.7 L772.7 136.7 L767.8 135.6 L763.1 134.3 Z" fill="#7A2E00" opacity="0.6" filter="url(#blur6)"/>
<path d="M844.3 51.3 L848.8 52.5 L853.2 53.8 L857.3 55.3 L861.3 57.0 L864.9 58.8 L868.4 60.7 L871.5 62.7 L874.4 64.8 L876.9 67.1 L879.2 69.4 L881.1 71.8 L882.7 74.3 L884.0 76.9 L885.0 79.5 L885.5 82.1 L885.8 84.8 L885.7 87.5 L885.2 90.2 L884.4 92.9 L883.3 95.5 L881.8 98.2 L880.0 100.8 L877.9 103.3 L875.5 105.8 L872.7 108.2 L869.7 110.6 L866.4 112.8 L862.8 115.0 L859.0 117.0 L854.9 118.9 L850.7 120.7 L846.2 122.3 L841.5 123.8 L836.7 125.1 L831.8 126.3 L826.7 127.4 L821.6 128.2 L816.4 128.9 L811.1 129.4 L805.8 129.8 L800.5 130.0 L795.2 130.0 L790.0 129.8 L784.8 129.4 L779.7 128.9 L774.7 128.2 L769.8 127.3 L765.1 126.3 Z" fill="#702800" opacity="0.45" filter="url(#blur3)"/>
<ellipse cx="814.5" cy="138.6" rx="56" ry="22" fill="#8E3A00" opacity="0.6" filter="url(#blur8)" transform="rotate(-14 814.5 138.6)"/>
<circle cx="790.5" cy="67.6" r="97.1" fill="url(#sphrim)"/>
</g>
<path d="M830.3 46.3 L829.5 41.7 L828.5 37.3 L827.3 33.1 L826.0 29.1 L824.5 25.3 L822.9 21.8 L821.2 18.5 L819.3 15.5 L817.3 12.9 L815.2 10.5 L813.0 8.4 L810.7 6.7 L808.3 5.3 L805.8 4.2 L803.2 3.5 L800.7 3.1 L798.0 3.0 L795.3 3.3 L792.7 4.0 L790.0 5.0 L787.3 6.3 L784.6 7.9 L781.9 9.9 L779.3 12.2 L776.8 14.8 L774.3 17.7 L771.8 20.9 L769.5 24.4 L767.2 28.1 L765.0 32.0 L763.0 36.2 L761.1 40.6 L759.2 45.1 L757.6 49.8 L756.0 54.7 L754.7 59.7 L753.4 64.8 L752.4 70.0 L751.5 75.2 L750.7 80.5 L750.2 85.8 L749.8 91.1 L749.5 96.3 L749.5 101.5 L749.6 106.6 L750.0 111.6 L750.4 116.5 L751.1 121.3 Z" fill="url(#vface)"/>
<path d="M830.3 46.3 L834.8 47.4 L839.2 48.6 L843.3 50.0 L847.3 51.5 L850.9 53.1 L854.4 54.9 L857.5 56.8 L860.4 58.8 L862.9 61.0 L865.2 63.2 L867.1 65.5 L868.7 67.9 L870.0 70.4 L871.0 72.9 L871.5 75.5 L871.8 78.1 L871.7 80.7 L871.2 83.3 L870.4 86.0 L869.3 88.6 L867.8 91.2 L866.0 93.8 L863.9 96.3 L861.5 98.8 L858.7 101.3 L855.7 103.6 L852.4 105.9 L848.8 108.0 L845.0 110.1 L840.9 112.0 L836.7 113.9 L832.2 115.6 L827.5 117.1 L822.7 118.6 L817.8 119.8 L812.7 120.9 L807.6 121.9 L802.4 122.7 L797.1 123.3 L791.8 123.8 L786.5 124.1 L781.2 124.2 L776.0 124.1 L770.8 123.9 L765.7 123.5 L760.7 122.9 L755.8 122.2 L751.1 121.3 Z" fill="url(#hface)"/>
<path d="M826.8 50.1 L826.0 46.0 L825.0 42.1 L823.8 38.4 L822.6 34.9 L821.2 31.5 L819.6 28.4 L818.0 25.5 L816.2 22.9 L814.3 20.5 L812.4 18.4 L810.3 16.6 L808.2 15.0 L806.0 13.8 L803.7 12.8 L801.4 12.1 L799.0 11.8 L796.6 11.7 L794.2 12.0 L791.8 12.5 L789.3 13.4 L786.9 14.5 L784.5 16.0 L782.2 17.7 L779.8 19.7 L777.5 22.0 L775.3 24.5 L773.2 27.3 L771.1 30.3 L769.1 33.6 L767.2 37.1 L765.4 40.7 L763.8 44.6 L762.2 48.6 L760.8 52.7 L759.5 57.0 L758.3 61.4 L757.3 65.9 L756.4 70.5 L755.7 75.1 L755.2 79.7 L754.7 84.4 L754.5 89.0 L754.4 93.6 L754.5 98.2 L754.7 102.7 L755.1 107.2 L755.6 111.5 L756.3 115.7 Z" fill="url(#vblue)" stroke="url(#vblue)" stroke-width="0.9" stroke-linejoin="round"/>
<path d="M826.8 50.1 L830.8 50.8 L834.6 51.6 L838.2 52.5 L841.7 53.6 L844.9 54.8 L847.9 56.2 L850.7 57.6 L853.2 59.2 L855.4 60.8 L857.3 62.6 L859.0 64.4 L860.4 66.3 L861.5 68.3 L862.3 70.3 L862.8 72.4 L863.0 74.6 L862.9 76.8 L862.5 79.0 L861.7 81.2 L860.7 83.4 L859.4 85.6 L857.8 87.9 L855.9 90.1 L853.7 92.2 L851.3 94.4 L848.6 96.4 L845.6 98.4 L842.5 100.4 L839.1 102.3 L835.5 104.1 L831.7 105.8 L827.7 107.4 L823.6 108.9 L819.4 110.3 L815.0 111.5 L810.6 112.7 L806.0 113.7 L801.4 114.6 L796.8 115.4 L792.1 116.0 L787.4 116.4 L782.8 116.8 L778.1 117.0 L773.6 117.0 L769.1 116.9 L764.7 116.6 L760.4 116.2 L756.3 115.7 Z" fill="url(#hblue2)"/>
<path d="M821.5 53.9 L820.9 50.6 L820.1 47.4 L819.2 44.4 L818.2 41.5 L817.1 38.8 L815.9 36.3 L814.6 33.9 L813.2 31.8 L811.7 29.9 L810.2 28.2 L808.6 26.7 L806.9 25.4 L805.1 24.4 L803.3 23.6 L801.5 23.1 L799.6 22.8 L797.7 22.8 L795.8 23.0 L793.8 23.5 L791.9 24.2 L790.0 25.2 L788.1 26.4 L786.2 27.8 L784.3 29.5 L782.5 31.3 L780.7 33.4 L779.0 35.7 L777.3 38.2 L775.7 40.9 L774.2 43.7 L772.8 46.7 L771.4 49.8 L770.2 53.1 L769.0 56.5 L767.9 60.0 L767.0 63.6 L766.2 67.3 L765.5 71.0 L764.9 74.8 L764.4 78.6 L764.0 82.4 L763.8 86.2 L763.7 89.9 L763.7 93.7 L763.9 97.3 L764.2 101.0 L764.6 104.5 L765.1 107.9 Z" fill="url(#vface2)" stroke="url(#vface2)" stroke-width="0.9" stroke-linejoin="round"/>
<path d="M821.5 53.9 L824.8 54.5 L828.0 55.1 L831.1 55.9 L834.0 56.8 L836.7 57.8 L839.2 58.9 L841.6 60.1 L843.7 61.4 L845.6 62.8 L847.3 64.2 L848.7 65.7 L850.0 67.3 L850.9 69.0 L851.7 70.6 L852.2 72.4 L852.4 74.1 L852.4 75.9 L852.1 77.8 L851.5 79.6 L850.8 81.4 L849.7 83.3 L848.5 85.1 L847.0 86.9 L845.2 88.7 L843.3 90.4 L841.1 92.1 L838.7 93.8 L836.2 95.4 L833.4 97.0 L830.5 98.4 L827.4 99.8 L824.2 101.1 L820.8 102.4 L817.3 103.5 L813.8 104.6 L810.1 105.5 L806.3 106.3 L802.5 107.1 L798.7 107.7 L794.8 108.2 L791.0 108.6 L787.1 108.8 L783.3 109.0 L779.5 109.0 L775.8 108.9 L772.1 108.7 L768.6 108.4 L765.1 107.9 Z" fill="url(#hface2)"/>
<path d="M817.1 57.8 L816.7 55.2 L816.2 52.7 L815.6 50.3 L814.9 48.1 L814.2 46.0 L813.3 44.0 L812.4 42.2 L811.3 40.5 L810.2 39.0 L809.1 37.7 L807.8 36.6 L806.5 35.7 L805.2 34.9 L803.8 34.3 L802.3 34.0 L800.9 33.8 L799.4 33.8 L797.8 34.1 L796.3 34.5 L794.7 35.1 L793.2 35.9 L791.6 36.9 L790.1 38.1 L788.5 39.5 L787.0 41.0 L785.5 42.7 L784.1 44.6 L782.7 46.6 L781.3 48.7 L780.0 51.0 L778.8 53.4 L777.6 56.0 L776.5 58.6 L775.5 61.3 L774.5 64.1 L773.7 67.0 L772.9 69.9 L772.2 72.9 L771.6 75.9 L771.1 78.9 L770.6 81.9 L770.3 84.9 L770.1 87.9 L770.0 90.9 L770.0 93.8 L770.1 96.6 L770.3 99.4 L770.6 102.1 L770.6 102.1 L773.4 102.5 L776.3 102.7 L779.3 102.9 L782.3 103.0 L785.4 103.0 L788.5 102.9 L791.6 102.6 L794.8 102.3 L797.9 101.9 L801.1 101.4 L804.2 100.8 L807.2 100.1 L810.2 99.3 L813.1 98.5 L816.0 97.6 L818.7 96.5 L821.4 95.5 L823.9 94.3 L826.3 93.1 L828.6 91.8 L830.7 90.5 L832.6 89.2 L834.4 87.8 L836.0 86.3 L837.4 84.9 L838.7 83.4 L839.7 81.9 L840.6 80.4 L841.3 78.9 L841.7 77.4 L841.9 75.9 L842.0 74.4 L841.8 72.9 L841.5 71.5 L840.9 70.1 L840.1 68.8 L839.1 67.5 L838.0 66.3 L836.6 65.1 L835.1 64.0 L833.4 62.9 L831.5 61.9 L829.4 61.0 L827.2 60.2 L824.9 59.5 L822.4 58.8 L819.8 58.3 L817.1 57.8 Z" fill="#401800"/>
<path d="M798.3 14.3 L799.9 15.9 L801.9 16.9 L800.9 18.9 L800.5 21.2 L798.3 20.8 L796.1 21.2 L795.7 18.9 L794.7 16.9 L796.7 15.9 Z" fill="#4E9A38" stroke="#4E9A38" stroke-width="1.2" stroke-linejoin="round" opacity="0.85"/>
<path d="M798.3 15.6 L799.0 17.2 L800.7 17.3 L799.4 18.4 L799.8 20.1 L798.3 19.2 L796.8 20.1 L797.2 18.4 L795.9 17.3 L797.6 17.2 Z" fill="#0A4612" stroke="#0A4612" stroke-width="0.7"/>
<path d="M776.5 29.5 L778.1 31.1 L780.1 32.1 L779.1 34.1 L778.7 36.4 L776.5 36.0 L774.3 36.4 L773.9 34.1 L772.9 32.1 L774.9 31.1 Z" fill="#4E9A38" stroke="#4E9A38" stroke-width="1.2" stroke-linejoin="round" opacity="0.85"/>
<path d="M776.5 30.8 L777.2 32.4 L778.9 32.5 L777.6 33.6 L778.0 35.3 L776.5 34.4 L775.0 35.3 L775.4 33.6 L774.1 32.5 L775.8 32.4 Z" fill="#0A4612" stroke="#0A4612" stroke-width="0.7"/>
<path d="M817.2 26.3 L818.8 27.9 L820.8 28.9 L819.8 30.9 L819.4 33.2 L817.2 32.8 L815.0 33.2 L814.6 30.9 L813.6 28.9 L815.6 27.9 Z" fill="#4E9A38" stroke="#4E9A38" stroke-width="1.2" stroke-linejoin="round" opacity="0.85"/>
<path d="M817.2 27.6 L817.9 29.2 L819.6 29.3 L818.3 30.4 L818.7 32.1 L817.2 31.2 L815.7 32.1 L816.1 30.4 L814.8 29.3 L816.5 29.2 Z" fill="#0A4612" stroke="#0A4612" stroke-width="0.7"/>
<path d="M764.6 53.6 L766.2 55.2 L768.2 56.2 L767.2 58.2 L766.8 60.5 L764.6 60.1 L762.4 60.5 L762.0 58.2 L761.0 56.2 L763.0 55.2 Z" fill="#4E9A38" stroke="#4E9A38" stroke-width="1.2" stroke-linejoin="round" opacity="0.85"/>
<path d="M764.6 54.9 L765.3 56.5 L767.0 56.6 L765.7 57.7 L766.1 59.4 L764.6 58.5 L763.1 59.4 L763.5 57.7 L762.2 56.6 L763.9 56.5 Z" fill="#0A4612" stroke="#0A4612" stroke-width="0.7"/>
<path d="M840.4 53.7 L842.0 55.3 L844.0 56.3 L843.0 58.3 L842.6 60.6 L840.4 60.2 L838.2 60.6 L837.8 58.3 L836.8 56.3 L838.8 55.3 Z" fill="#66C846" stroke="#66C846" stroke-width="1.2" stroke-linejoin="round" opacity="0.9"/>
<path d="M840.4 55.0 L841.1 56.6 L842.8 56.7 L841.5 57.8 L841.9 59.5 L840.4 58.6 L838.9 59.5 L839.3 57.8 L838.0 56.7 L839.7 56.6 Z" fill="#0A5A1C" stroke="#0A5A1C" stroke-width="0.7"/>
<path d="M855.9 69.2 L857.5 70.8 L859.5 71.8 L858.5 73.8 L858.1 76.1 L855.9 75.7 L853.7 76.1 L853.3 73.8 L852.3 71.8 L854.3 70.8 Z" fill="#66C846" stroke="#66C846" stroke-width="1.2" stroke-linejoin="round" opacity="0.9"/>
<path d="M855.9 70.5 L856.6 72.1 L858.3 72.2 L857.0 73.3 L857.4 75.0 L855.9 74.1 L854.4 75.0 L854.8 73.3 L853.5 72.2 L855.2 72.1 Z" fill="#0A5A1C" stroke="#0A5A1C" stroke-width="0.7"/>
<path d="M759.6 88.4 L761.2 90.0 L763.2 91.0 L762.2 93.0 L761.8 95.3 L759.6 94.9 L757.4 95.3 L757.0 93.0 L756.0 91.0 L758.0 90.0 Z" fill="#4E9A38" stroke="#4E9A38" stroke-width="1.2" stroke-linejoin="round" opacity="0.85"/>
<path d="M759.6 89.7 L760.3 91.3 L762.0 91.4 L760.7 92.5 L761.1 94.2 L759.6 93.3 L758.1 94.2 L758.5 92.5 L757.2 91.4 L758.9 91.3 Z" fill="#0A4612" stroke="#0A4612" stroke-width="0.7"/>
<path d="M782.0 110.5 L783.6 112.1 L785.6 113.1 L784.6 115.1 L784.2 117.4 L782.0 117.0 L779.8 117.4 L779.4 115.1 L778.4 113.1 L780.4 112.1 Z" fill="#66C846" stroke="#66C846" stroke-width="1.2" stroke-linejoin="round" opacity="0.9"/>
<path d="M782.0 111.8 L782.7 113.4 L784.4 113.5 L783.1 114.6 L783.5 116.3 L782.0 115.4 L780.5 116.3 L780.9 114.6 L779.6 113.5 L781.3 113.4 Z" fill="#0A5A1C" stroke="#0A5A1C" stroke-width="0.7"/>
<path d="M816.8 106.5 L818.4 108.1 L820.4 109.1 L819.4 111.1 L819.0 113.4 L816.8 113.0 L814.6 113.4 L814.2 111.1 L813.2 109.1 L815.2 108.1 Z" fill="#66C846" stroke="#66C846" stroke-width="1.2" stroke-linejoin="round" opacity="0.9"/>
<path d="M816.8 107.8 L817.5 109.4 L819.2 109.5 L817.9 110.6 L818.3 112.3 L816.8 111.4 L815.3 112.3 L815.7 110.6 L814.4 109.5 L816.1 109.4 Z" fill="#0A5A1C" stroke="#0A5A1C" stroke-width="0.7"/>
<path d="M846.8 92.0 L848.4 93.6 L850.4 94.6 L849.4 96.6 L849.0 98.9 L846.8 98.5 L844.6 98.9 L844.2 96.6 L843.2 94.6 L845.2 93.6 Z" fill="#66C846" stroke="#66C846" stroke-width="1.2" stroke-linejoin="round" opacity="0.9"/>
<path d="M846.8 93.3 L847.5 94.9 L849.2 95.0 L847.9 96.1 L848.3 97.8 L846.8 96.9 L845.3 97.8 L845.7 96.1 L844.4 95.0 L846.1 94.9 Z" fill="#0A5A1C" stroke="#0A5A1C" stroke-width="0.7"/>
<rect x="74.8" y="277.5" width="229.2" height="160" fill="#000" opacity="0.07" filter="url(#blur3)"/>
<rect x="74.8" y="274.8" width="229.2" height="159.8" fill="#DAE3F3"/>
<text x="190.8" y="334.0" font-family='"Liberation Serif", "Times New Roman", serif' font-size="24" font-weight="bold" fill="#000" text-anchor="middle" stroke="#000" stroke-width="0.15" >Racemic</text>
<text x="190.2" y="361.7" font-family='"Liberation Serif", "Times New Roman", serif' font-size="24" font-weight="bold" fill="#000" text-anchor="middle" stroke="#000" stroke-width="0.15" >supersaturated</text>
<text x="191.3" y="391.3" font-family='"Liberation Serif", "Times New Roman", serif' font-size="24" font-weight="bold" fill="#000" text-anchor="middle" stroke="#000" stroke-width="0.15" >solution</text>
<path d="M323.6 351.2 H462" stroke="#000" stroke-width="2.6" fill="none"/>
<path d="M472.0 351.2 L457.0 356.2 L461.8 351.2 L457.0 346.2 Z" fill="#000"/>
<text x="342.6" y="337.6" font-family='"Liberation Serif", "Times New Roman", serif' font-size="21" font-weight="bold" fill="#000" stroke="#000" stroke-width="0.15"><tspan font-style="italic">R</tspan>-seed, FNS</text>
<text x="330.2" y="380.8" font-family='"Liberation Serif", "Times New Roman", serif' font-size="21" font-weight="bold" fill="#000" text-anchor="start" stroke="#000" stroke-width="0.15" textLength="131.6" lengthAdjust="spacingAndGlyphs" >Crystallization</text>
<rect x="485.6" y="275.4" width="232.2" height="163" fill="#fff" stroke="#000" stroke-width="2.4"/>
<path d="M507.0 282.6 L511.7 287.0 L521.7 286.8 L523.5 282.6 L530.3 288.7 L530.3 295.5 L507.0 295.5 Z" fill="#C8C8C8"/>
<path d="M507.0 282.6 L511.7 287.0 L511.7 290.5 L507.0 295.5 Z" fill="#DADADA"/>
<path d="M511.7 287.0 L521.7 286.8 L525.9 290.5 L511.7 290.5 Z" fill="#E5E5E5"/>
<path d="M521.7 286.8 L523.5 282.6 L530.3 288.7 L525.9 290.5 Z" fill="#BEBEBE"/>
<path d="M530.3 288.7 L530.3 295.5 L525.9 290.5 Z" fill="#A8A8A8"/>
<path d="M507.0 295.5 L511.7 290.5 L525.9 290.5 L530.3 295.5 Z" fill="#AEAEAE"/>
<path d="M559.5 295.0 L564.2 299.4 L574.2 299.2 L576.0 295.0 L582.8 301.1 L582.8 307.9 L559.5 307.9 Z" fill="#C8C8C8"/>
<path d="M559.5 295.0 L564.2 299.4 L564.2 302.9 L559.5 307.9 Z" fill="#DADADA"/>
<path d="M564.2 299.4 L574.2 299.2 L578.4 302.9 L564.2 302.9 Z" fill="#E5E5E5"/>
<path d="M574.2 299.2 L576.0 295.0 L582.8 301.1 L578.4 302.9 Z" fill="#BEBEBE"/>
<path d="M582.8 301.1 L582.8 307.9 L578.4 302.9 Z" fill="#A8A8A8"/>
<path d="M559.5 307.9 L564.2 302.9 L578.4 302.9 L582.8 307.9 Z" fill="#AEAEAE"/>
<path d="M640.0 293.4 L644.7 297.8 L654.7 297.6 L656.5 293.4 L663.3 299.4 L663.3 306.3 L640.0 306.3 Z" fill="#C8C8C8"/>
<path d="M640.0 293.4 L644.7 297.8 L644.7 301.3 L640.0 306.3 Z" fill="#DADADA"/>
<path d="M644.7 297.8 L654.7 297.6 L658.9 301.3 L644.7 301.3 Z" fill="#E5E5E5"/>
<path d="M654.7 297.6 L656.5 293.4 L663.3 299.4 L658.9 301.3 Z" fill="#BEBEBE"/>
<path d="M663.3 299.4 L663.3 306.3 L658.9 301.3 Z" fill="#A8A8A8"/>
<path d="M640.0 306.3 L644.7 301.3 L658.9 301.3 L663.3 306.3 Z" fill="#AEAEAE"/>
<path d="M490.3 326.6 L495.0 331.0 L505.0 330.8 L506.9 326.6 L513.6 332.7 L513.6 339.5 L490.3 339.5 Z" fill="#C8C8C8"/>
<path d="M490.3 326.6 L495.0 331.0 L495.0 334.5 L490.3 339.5 Z" fill="#DADADA"/>
<path d="M495.0 331.0 L505.0 330.8 L509.2 334.5 L495.0 334.5 Z" fill="#E5E5E5"/>
<path d="M505.0 330.8 L506.9 326.6 L513.6 332.7 L509.2 334.5 Z" fill="#BEBEBE"/>
<path d="M513.6 332.7 L513.6 339.5 L509.2 334.5 Z" fill="#A8A8A8"/>
<path d="M490.3 339.5 L495.0 334.5 L509.2 334.5 L513.6 339.5 Z" fill="#AEAEAE"/>
<path d="M553.2 326.6 L557.9 331.0 L567.9 330.8 L569.8 326.6 L576.5 332.7 L576.5 339.5 L553.2 339.5 Z" fill="#C8C8C8"/>
<path d="M553.2 326.6 L557.9 331.0 L557.9 334.5 L553.2 339.5 Z" fill="#DADADA"/>
<path d="M557.9 331.0 L567.9 330.8 L572.1 334.5 L557.9 334.5 Z" fill="#E5E5E5"/>
<path d="M567.9 330.8 L569.8 326.6 L576.5 332.7 L572.1 334.5 Z" fill="#BEBEBE"/>
<path d="M576.5 332.7 L576.5 339.5 L572.1 334.5 Z" fill="#A8A8A8"/>
<path d="M553.2 339.5 L557.9 334.5 L572.1 334.5 L576.5 339.5 Z" fill="#AEAEAE"/>
<path d="M645.0 317.4 L649.7 321.8 L659.7 321.6 L661.5 317.4 L668.3 323.4 L668.3 330.3 L645.0 330.3 Z" fill="#C8C8C8"/>
<path d="M645.0 317.4 L649.7 321.8 L649.7 325.3 L645.0 330.3 Z" fill="#DADADA"/>
<path d="M649.7 321.8 L659.7 321.6 L663.9 325.3 L649.7 325.3 Z" fill="#E5E5E5"/>
<path d="M659.7 321.6 L661.5 317.4 L668.3 323.4 L663.9 325.3 Z" fill="#BEBEBE"/>
<path d="M668.3 323.4 L668.3 330.3 L663.9 325.3 Z" fill="#A8A8A8"/>
<path d="M645.0 330.3 L649.7 325.3 L663.9 325.3 L668.3 330.3 Z" fill="#AEAEAE"/>
<path d="M605.0 329.2 L609.7 333.6 L619.7 333.4 L621.5 329.2 L628.3 335.2 L628.3 342.1 L605.0 342.1 Z" fill="#C8C8C8"/>
<path d="M605.0 329.2 L609.7 333.6 L609.7 337.1 L605.0 342.1 Z" fill="#DADADA"/>
<path d="M609.7 333.6 L619.7 333.4 L623.9 337.1 L609.7 337.1 Z" fill="#E5E5E5"/>
<path d="M619.7 333.4 L621.5 329.2 L628.3 335.2 L623.9 337.1 Z" fill="#BEBEBE"/>
<path d="M628.3 335.2 L628.3 342.1 L623.9 337.1 Z" fill="#A8A8A8"/>
<path d="M605.0 342.1 L609.7 337.1 L623.9 337.1 L628.3 342.1 Z" fill="#AEAEAE"/>
<path d="M680.0 330.4 L684.7 334.8 L694.7 334.6 L696.5 330.4 L703.3 336.4 L703.3 343.3 L680.0 343.3 Z" fill="#C8C8C8"/>
<path d="M680.0 330.4 L684.7 334.8 L684.7 338.3 L680.0 343.3 Z" fill="#DADADA"/>
<path d="M684.7 334.8 L694.7 334.6 L698.9 338.3 L684.7 338.3 Z" fill="#E5E5E5"/>
<path d="M694.7 334.6 L696.5 330.4 L703.3 336.4 L698.9 338.3 Z" fill="#BEBEBE"/>
<path d="M703.3 336.4 L703.3 343.3 L698.9 338.3 Z" fill="#A8A8A8"/>
<path d="M680.0 343.3 L684.7 338.3 L698.9 338.3 L703.3 343.3 Z" fill="#AEAEAE"/>
<path d="M521.8 343.2 L526.5 347.6 L536.5 347.4 L538.3 343.2 L545.1 349.2 L545.1 356.1 L521.8 356.1 Z" fill="#C8C8C8"/>
<path d="M521.8 343.2 L526.5 347.6 L526.5 351.1 L521.8 356.1 Z" fill="#DADADA"/>
<path d="M526.5 347.6 L536.5 347.4 L540.7 351.1 L526.5 351.1 Z" fill="#E5E5E5"/>
<path d="M536.5 347.4 L538.3 343.2 L545.1 349.2 L540.7 351.1 Z" fill="#BEBEBE"/>
<path d="M545.1 349.2 L545.1 356.1 L540.7 351.1 Z" fill="#A8A8A8"/>
<path d="M521.8 356.1 L526.5 351.1 L540.7 351.1 L545.1 356.1 Z" fill="#AEAEAE"/>
<path d="M609.0 366.1 L613.7 370.5 L623.7 370.3 L625.5 366.1 L632.3 372.2 L632.3 379.0 L609.0 379.0 Z" fill="#C8C8C8"/>
<path d="M609.0 366.1 L613.7 370.5 L613.7 374.0 L609.0 379.0 Z" fill="#DADADA"/>
<path d="M613.7 370.5 L623.7 370.3 L627.9 374.0 L613.7 374.0 Z" fill="#E5E5E5"/>
<path d="M623.7 370.3 L625.5 366.1 L632.3 372.2 L627.9 374.0 Z" fill="#BEBEBE"/>
<path d="M632.3 372.2 L632.3 379.0 L627.9 374.0 Z" fill="#A8A8A8"/>
<path d="M609.0 379.0 L613.7 374.0 L627.9 374.0 L632.3 379.0 Z" fill="#AEAEAE"/>
<path d="M648.6 371.0 L653.3 375.4 L663.3 375.2 L665.1 371.0 L671.9 377.1 L671.9 383.9 L648.6 383.9 Z" fill="#C8C8C8"/>
<path d="M648.6 371.0 L653.3 375.4 L653.3 378.9 L648.6 383.9 Z" fill="#DADADA"/>
<path d="M653.3 375.4 L663.3 375.2 L667.5 378.9 L653.3 378.9 Z" fill="#E5E5E5"/>
<path d="M663.3 375.2 L665.1 371.0 L671.9 377.1 L667.5 378.9 Z" fill="#BEBEBE"/>
<path d="M671.9 377.1 L671.9 383.9 L667.5 378.9 Z" fill="#A8A8A8"/>
<path d="M648.6 383.9 L653.3 378.9 L667.5 378.9 L671.9 383.9 Z" fill="#AEAEAE"/>
<path d="M492.2 395.7 L496.9 400.1 L506.9 399.9 L508.8 395.7 L515.5 401.8 L515.5 408.6 L492.2 408.6 Z" fill="#C8C8C8"/>
<path d="M492.2 395.7 L496.9 400.1 L496.9 403.6 L492.2 408.6 Z" fill="#DADADA"/>
<path d="M496.9 400.1 L506.9 399.9 L511.1 403.6 L496.9 403.6 Z" fill="#E5E5E5"/>
<path d="M506.9 399.9 L508.8 395.7 L515.5 401.8 L511.1 403.6 Z" fill="#BEBEBE"/>
<path d="M515.5 401.8 L515.5 408.6 L511.1 403.6 Z" fill="#A8A8A8"/>
<path d="M492.2 408.6 L496.9 403.6 L511.1 403.6 L515.5 408.6 Z" fill="#AEAEAE"/>
<path d="M538.4 396.0 L543.1 400.4 L553.1 400.2 L554.9 396.0 L561.7 402.1 L561.7 408.9 L538.4 408.9 Z" fill="#C8C8C8"/>
<path d="M538.4 396.0 L543.1 400.4 L543.1 403.9 L538.4 408.9 Z" fill="#DADADA"/>
<path d="M543.1 400.4 L553.1 400.2 L557.3 403.9 L543.1 403.9 Z" fill="#E5E5E5"/>
<path d="M553.1 400.2 L554.9 396.0 L561.7 402.1 L557.3 403.9 Z" fill="#BEBEBE"/>
<path d="M561.7 402.1 L561.7 408.9 L557.3 403.9 Z" fill="#A8A8A8"/>
<path d="M538.4 408.9 L543.1 403.9 L557.3 403.9 L561.7 408.9 Z" fill="#AEAEAE"/>
<path d="M582.0 389.6 L586.7 394.0 L596.7 393.8 L598.5 389.6 L605.3 395.7 L605.3 402.5 L582.0 402.5 Z" fill="#C8C8C8"/>
<path d="M582.0 389.6 L586.7 394.0 L586.7 397.5 L582.0 402.5 Z" fill="#DADADA"/>
<path d="M586.7 394.0 L596.7 393.8 L600.9 397.5 L586.7 397.5 Z" fill="#E5E5E5"/>
<path d="M596.7 393.8 L598.5 389.6 L605.3 395.7 L600.9 397.5 Z" fill="#BEBEBE"/>
<path d="M605.3 395.7 L605.3 402.5 L600.9 397.5 Z" fill="#A8A8A8"/>
<path d="M582.0 402.5 L586.7 397.5 L600.9 397.5 L605.3 402.5 Z" fill="#AEAEAE"/>
<path d="M626.0 389.4 L630.7 393.8 L640.7 393.6 L642.5 389.4 L649.3 395.4 L649.3 402.3 L626.0 402.3 Z" fill="#C8C8C8"/>
<path d="M626.0 389.4 L630.7 393.8 L630.7 397.3 L626.0 402.3 Z" fill="#DADADA"/>
<path d="M630.7 393.8 L640.7 393.6 L644.9 397.3 L630.7 397.3 Z" fill="#E5E5E5"/>
<path d="M640.7 393.6 L642.5 389.4 L649.3 395.4 L644.9 397.3 Z" fill="#BEBEBE"/>
<path d="M649.3 395.4 L649.3 402.3 L644.9 397.3 Z" fill="#A8A8A8"/>
<path d="M626.0 402.3 L630.7 397.3 L644.9 397.3 L649.3 402.3 Z" fill="#AEAEAE"/>
<path d="M689.0 403.6 L693.7 408.0 L703.7 407.8 L705.5 403.6 L712.3 409.7 L712.3 416.5 L689.0 416.5 Z" fill="#C8C8C8"/>
<path d="M689.0 403.6 L693.7 408.0 L693.7 411.5 L689.0 416.5 Z" fill="#DADADA"/>
<path d="M693.7 408.0 L703.7 407.8 L707.9 411.5 L693.7 411.5 Z" fill="#E5E5E5"/>
<path d="M703.7 407.8 L705.5 403.6 L712.3 409.7 L707.9 411.5 Z" fill="#BEBEBE"/>
<path d="M712.3 409.7 L712.3 416.5 L707.9 411.5 Z" fill="#A8A8A8"/>
<path d="M689.0 416.5 L693.7 411.5 L707.9 411.5 L712.3 416.5 Z" fill="#AEAEAE"/>
<path d="M524.4 416.4 L529.1 420.8 L539.1 420.6 L540.9 416.4 L547.7 422.4 L547.7 429.3 L524.4 429.3 Z" fill="#C8C8C8"/>
<path d="M524.4 416.4 L529.1 420.8 L529.1 424.3 L524.4 429.3 Z" fill="#DADADA"/>
<path d="M529.1 420.8 L539.1 420.6 L543.3 424.3 L529.1 424.3 Z" fill="#E5E5E5"/>
<path d="M539.1 420.6 L540.9 416.4 L547.7 422.4 L543.3 424.3 Z" fill="#BEBEBE"/>
<path d="M547.7 422.4 L547.7 429.3 L543.3 424.3 Z" fill="#A8A8A8"/>
<path d="M524.4 429.3 L529.1 424.3 L543.3 424.3 L547.7 429.3 Z" fill="#AEAEAE"/>
<path d="M563.2 409.8 L567.9 414.2 L577.9 414.0 L579.8 409.8 L586.5 415.9 L586.5 422.7 L563.2 422.7 Z" fill="#C8C8C8"/>
<path d="M563.2 409.8 L567.9 414.2 L567.9 417.7 L563.2 422.7 Z" fill="#DADADA"/>
<path d="M567.9 414.2 L577.9 414.0 L582.1 417.7 L567.9 417.7 Z" fill="#E5E5E5"/>
<path d="M577.9 414.0 L579.8 409.8 L586.5 415.9 L582.1 417.7 Z" fill="#BEBEBE"/>
<path d="M586.5 415.9 L586.5 422.7 L582.1 417.7 Z" fill="#A8A8A8"/>
<path d="M563.2 422.7 L567.9 417.7 L582.1 417.7 L586.5 422.7 Z" fill="#AEAEAE"/>
<path d="M610.5 411.6 L615.2 416.0 L625.2 415.8 L627.0 411.6 L633.8 417.7 L633.8 424.5 L610.5 424.5 Z" fill="#C8C8C8"/>
<path d="M610.5 411.6 L615.2 416.0 L615.2 419.5 L610.5 424.5 Z" fill="#DADADA"/>
<path d="M615.2 416.0 L625.2 415.8 L629.4 419.5 L615.2 419.5 Z" fill="#E5E5E5"/>
<path d="M625.2 415.8 L627.0 411.6 L633.8 417.7 L629.4 419.5 Z" fill="#BEBEBE"/>
<path d="M633.8 417.7 L633.8 424.5 L629.4 419.5 Z" fill="#A8A8A8"/>
<path d="M610.5 424.5 L615.2 419.5 L629.4 419.5 L633.8 424.5 Z" fill="#AEAEAE"/>
<path d="M519.5 312.4 L528.6 302.8 L550.5 302.8 L550.5 320.6 L519.5 320.6 Z" fill="#92D050"/>
<path d="M528.6 302.8 L550.5 302.8 L544.4 309.2 L531.5 309.2 Z" fill="#A2DE5A"/>
<path d="M519.5 312.4 L528.6 302.8 L531.5 309.2 L524.5 315.1 Z" fill="#9AD854"/>
<path d="M519.5 312.4 L524.5 315.1 L519.5 320.6 Z" fill="#90D250"/>
<path d="M524.5 315.1 L531.5 309.2 L544.4 309.2 L544.4 315.1 Z" fill="#8DCD4C"/>
<path d="M550.5 302.8 L550.5 320.6 L544.4 315.1 L544.4 309.2 Z" fill="#78B143"/>
<path d="M519.5 320.6 L524.5 315.1 L544.4 315.1 L550.5 320.6 Z" fill="#7AB444"/>
<path d="M593.2 304.2 L602.3 294.6 L624.2 294.6 L624.2 312.4 L593.2 312.4 Z" fill="#92D050"/>
<path d="M602.3 294.6 L624.2 294.6 L618.1 301.0 L605.2 301.0 Z" fill="#A2DE5A"/>
<path d="M593.2 304.2 L602.3 294.6 L605.2 301.0 L598.2 306.9 Z" fill="#9AD854"/>
<path d="M593.2 304.2 L598.2 306.9 L593.2 312.4 Z" fill="#90D250"/>
<path d="M598.2 306.9 L605.2 301.0 L618.1 301.0 L618.1 306.9 Z" fill="#8DCD4C"/>
<path d="M624.2 294.6 L624.2 312.4 L618.1 306.9 L618.1 301.0 Z" fill="#78B143"/>
<path d="M593.2 312.4 L598.2 306.9 L618.1 306.9 L624.2 312.4 Z" fill="#7AB444"/>
<path d="M674.5 299.2 L683.6 289.6 L705.5 289.6 L705.5 307.4 L674.5 307.4 Z" fill="#92D050"/>
<path d="M683.6 289.6 L705.5 289.6 L699.4 296.0 L686.5 296.0 Z" fill="#A2DE5A"/>
<path d="M674.5 299.2 L683.6 289.6 L686.5 296.0 L679.5 301.9 Z" fill="#9AD854"/>
<path d="M674.5 299.2 L679.5 301.9 L674.5 307.4 Z" fill="#90D250"/>
<path d="M679.5 301.9 L686.5 296.0 L699.4 296.0 L699.4 301.9 Z" fill="#8DCD4C"/>
<path d="M705.5 289.6 L705.5 307.4 L699.4 301.9 L699.4 296.0 Z" fill="#78B143"/>
<path d="M674.5 307.4 L679.5 301.9 L699.4 301.9 L705.5 307.4 Z" fill="#7AB444"/>
<path d="M566.2 349.2 L575.3 339.6 L597.2 339.6 L597.2 357.4 L566.2 357.4 Z" fill="#92D050"/>
<path d="M575.3 339.6 L597.2 339.6 L591.1 346.0 L578.2 346.0 Z" fill="#A2DE5A"/>
<path d="M566.2 349.2 L575.3 339.6 L578.2 346.0 L571.2 351.9 Z" fill="#9AD854"/>
<path d="M566.2 349.2 L571.2 351.9 L566.2 357.4 Z" fill="#90D250"/>
<path d="M571.2 351.9 L578.2 346.0 L591.1 346.0 L591.1 351.9 Z" fill="#8DCD4C"/>
<path d="M597.2 339.6 L597.2 357.4 L591.1 351.9 L591.1 346.0 Z" fill="#78B143"/>
<path d="M566.2 357.4 L571.2 351.9 L591.1 351.9 L597.2 357.4 Z" fill="#7AB444"/>
<path d="M635.3 350.4 L644.4 340.8 L666.3 340.8 L666.3 358.6 L635.3 358.6 Z" fill="#92D050"/>
<path d="M644.4 340.8 L666.3 340.8 L660.2 347.2 L647.3 347.2 Z" fill="#A2DE5A"/>
<path d="M635.3 350.4 L644.4 340.8 L647.3 347.2 L640.3 353.1 Z" fill="#9AD854"/>
<path d="M635.3 350.4 L640.3 353.1 L635.3 358.6 Z" fill="#90D250"/>
<path d="M640.3 353.1 L647.3 347.2 L660.2 347.2 L660.2 353.1 Z" fill="#8DCD4C"/>
<path d="M666.3 340.8 L666.3 358.6 L660.2 353.1 L660.2 347.2 Z" fill="#78B143"/>
<path d="M635.3 358.6 L640.3 353.1 L660.2 353.1 L666.3 358.6 Z" fill="#7AB444"/>
<path d="M493.0 375.0 L502.1 365.4 L524.0 365.4 L524.0 383.2 L493.0 383.2 Z" fill="#92D050"/>
<path d="M502.1 365.4 L524.0 365.4 L517.9 371.8 L505.0 371.8 Z" fill="#A2DE5A"/>
<path d="M493.0 375.0 L502.1 365.4 L505.0 371.8 L498.0 377.7 Z" fill="#9AD854"/>
<path d="M493.0 375.0 L498.0 377.7 L493.0 383.2 Z" fill="#90D250"/>
<path d="M498.0 377.7 L505.0 371.8 L517.9 371.8 L517.9 377.7 Z" fill="#8DCD4C"/>
<path d="M524.0 365.4 L524.0 383.2 L517.9 377.7 L517.9 371.8 Z" fill="#78B143"/>
<path d="M493.0 383.2 L498.0 377.7 L517.9 377.7 L524.0 383.2 Z" fill="#7AB444"/>
<path d="M551.4 379.0 L560.5 369.4 L582.4 369.4 L582.4 387.2 L551.4 387.2 Z" fill="#92D050"/>
<path d="M560.5 369.4 L582.4 369.4 L576.3 375.8 L563.4 375.8 Z" fill="#A2DE5A"/>
<path d="M551.4 379.0 L560.5 369.4 L563.4 375.8 L556.4 381.7 Z" fill="#9AD854"/>
<path d="M551.4 379.0 L556.4 381.7 L551.4 387.2 Z" fill="#90D250"/>
<path d="M556.4 381.7 L563.4 375.8 L576.3 375.8 L576.3 381.7 Z" fill="#8DCD4C"/>
<path d="M582.4 369.4 L582.4 387.2 L576.3 381.7 L576.3 375.8 Z" fill="#78B143"/>
<path d="M551.4 387.2 L556.4 381.7 L576.3 381.7 L582.4 387.2 Z" fill="#7AB444"/>
<path d="M681.5 381.8 L690.6 372.2 L712.5 372.2 L712.5 390.0 L681.5 390.0 Z" fill="#92D050"/>
<path d="M690.6 372.2 L712.5 372.2 L706.4 378.6 L693.5 378.6 Z" fill="#A2DE5A"/>
<path d="M681.5 381.8 L690.6 372.2 L693.5 378.6 L686.5 384.5 Z" fill="#9AD854"/>
<path d="M681.5 381.8 L686.5 384.5 L681.5 390.0 Z" fill="#90D250"/>
<path d="M686.5 384.5 L693.5 378.6 L706.4 378.6 L706.4 384.5 Z" fill="#8DCD4C"/>
<path d="M712.5 372.2 L712.5 390.0 L706.4 384.5 L706.4 378.6 Z" fill="#78B143"/>
<path d="M681.5 390.0 L686.5 384.5 L706.4 384.5 L712.5 390.0 Z" fill="#7AB444"/>
<path d="M652.3 416.2 L661.4 406.6 L683.3 406.6 L683.3 424.4 L652.3 424.4 Z" fill="#92D050"/>
<path d="M661.4 406.6 L683.3 406.6 L677.2 413.0 L664.3 413.0 Z" fill="#A2DE5A"/>
<path d="M652.3 416.2 L661.4 406.6 L664.3 413.0 L657.3 418.9 Z" fill="#9AD854"/>
<path d="M652.3 416.2 L657.3 418.9 L652.3 424.4 Z" fill="#90D250"/>
<path d="M657.3 418.9 L664.3 413.0 L677.2 413.0 L677.2 418.9 Z" fill="#8DCD4C"/>
<path d="M683.3 406.6 L683.3 424.4 L677.2 418.9 L677.2 413.0 Z" fill="#78B143"/>
<path d="M652.3 424.4 L657.3 418.9 L677.2 418.9 L683.3 424.4 Z" fill="#7AB444"/>
<path d="M731.6 355 H861" stroke="#000" stroke-width="2.6" fill="none"/>
<path d="M871.0 355.0 L856.0 360.0 L860.8 355.0 L856.0 350.0 Z" fill="#000"/>
<text x="755.8" y="338.3" font-family='"Liberation Serif", "Times New Roman", serif' font-size="21" font-weight="bold" fill="#000" text-anchor="start" stroke="#000" stroke-width="0.15" textLength="88.6" lengthAdjust="spacingAndGlyphs" >Screening</text>
<rect x="890.6" y="275.2" width="233.2" height="162.8" fill="#fff" stroke="#000" stroke-width="2.4"/>
<path d="M1012.0 289.0 L1016.7 293.4 L1026.7 293.2 L1028.5 289.0 L1035.3 295.1 L1035.3 301.9 L1012.0 301.9 Z" fill="#C8C8C8"/>
<path d="M1012.0 289.0 L1016.7 293.4 L1016.7 296.9 L1012.0 301.9 Z" fill="#DADADA"/>
<path d="M1016.7 293.4 L1026.7 293.2 L1030.9 296.9 L1016.7 296.9 Z" fill="#E5E5E5"/>
<path d="M1026.7 293.2 L1028.5 289.0 L1035.3 295.1 L1030.9 296.9 Z" fill="#BEBEBE"/>
<path d="M1035.3 295.1 L1035.3 301.9 L1030.9 296.9 Z" fill="#A8A8A8"/>
<path d="M1012.0 301.9 L1016.7 296.9 L1030.9 296.9 L1035.3 301.9 Z" fill="#AEAEAE"/>
<path d="M1045.7 288.3 L1050.4 292.7 L1060.4 292.5 L1062.2 288.3 L1069.0 294.4 L1069.0 301.2 L1045.7 301.2 Z" fill="#C8C8C8"/>
<path d="M1045.7 288.3 L1050.4 292.7 L1050.4 296.2 L1045.7 301.2 Z" fill="#DADADA"/>
<path d="M1050.4 292.7 L1060.4 292.5 L1064.6 296.2 L1050.4 296.2 Z" fill="#E5E5E5"/>
<path d="M1060.4 292.5 L1062.2 288.3 L1069.0 294.4 L1064.6 296.2 Z" fill="#BEBEBE"/>
<path d="M1069.0 294.4 L1069.0 301.2 L1064.6 296.2 Z" fill="#A8A8A8"/>
<path d="M1045.7 301.2 L1050.4 296.2 L1064.6 296.2 L1069.0 301.2 Z" fill="#AEAEAE"/>
<path d="M1085.6 289.0 L1090.3 293.4 L1100.3 293.2 L1102.1 289.0 L1108.9 295.1 L1108.9 301.9 L1085.6 301.9 Z" fill="#C8C8C8"/>
<path d="M1085.6 289.0 L1090.3 293.4 L1090.3 296.9 L1085.6 301.9 Z" fill="#DADADA"/>
<path d="M1090.3 293.4 L1100.3 293.2 L1104.5 296.9 L1090.3 296.9 Z" fill="#E5E5E5"/>
<path d="M1100.3 293.2 L1102.1 289.0 L1108.9 295.1 L1104.5 296.9 Z" fill="#BEBEBE"/>
<path d="M1108.9 295.1 L1108.9 301.9 L1104.5 296.9 Z" fill="#A8A8A8"/>
<path d="M1085.6 301.9 L1090.3 296.9 L1104.5 296.9 L1108.9 301.9 Z" fill="#AEAEAE"/>
<path d="M1063.8 307.5 L1068.5 311.9 L1078.5 311.7 L1080.3 307.5 L1087.1 313.6 L1087.1 320.4 L1063.8 320.4 Z" fill="#C8C8C8"/>
<path d="M1063.8 307.5 L1068.5 311.9 L1068.5 315.4 L1063.8 320.4 Z" fill="#DADADA"/>
<path d="M1068.5 311.9 L1078.5 311.7 L1082.7 315.4 L1068.5 315.4 Z" fill="#E5E5E5"/>
<path d="M1078.5 311.7 L1080.3 307.5 L1087.1 313.6 L1082.7 315.4 Z" fill="#BEBEBE"/>
<path d="M1087.1 313.6 L1087.1 320.4 L1082.7 315.4 Z" fill="#A8A8A8"/>
<path d="M1063.8 320.4 L1068.5 315.4 L1082.7 315.4 L1087.1 320.4 Z" fill="#AEAEAE"/>
<path d="M999.8 316.8 L1004.5 321.2 L1014.5 321.0 L1016.3 316.8 L1023.1 322.9 L1023.1 329.7 L999.8 329.7 Z" fill="#C8C8C8"/>
<path d="M999.8 316.8 L1004.5 321.2 L1004.5 324.7 L999.8 329.7 Z" fill="#DADADA"/>
<path d="M1004.5 321.2 L1014.5 321.0 L1018.7 324.7 L1004.5 324.7 Z" fill="#E5E5E5"/>
<path d="M1014.5 321.0 L1016.3 316.8 L1023.1 322.9 L1018.7 324.7 Z" fill="#BEBEBE"/>
<path d="M1023.1 322.9 L1023.1 329.7 L1018.7 324.7 Z" fill="#A8A8A8"/>
<path d="M999.8 329.7 L1004.5 324.7 L1018.7 324.7 L1023.1 329.7 Z" fill="#AEAEAE"/>
<path d="M1032.0 318.6 L1036.7 323.0 L1046.7 322.8 L1048.5 318.6 L1055.3 324.7 L1055.3 331.5 L1032.0 331.5 Z" fill="#C8C8C8"/>
<path d="M1032.0 318.6 L1036.7 323.0 L1036.7 326.5 L1032.0 331.5 Z" fill="#DADADA"/>
<path d="M1036.7 323.0 L1046.7 322.8 L1050.9 326.5 L1036.7 326.5 Z" fill="#E5E5E5"/>
<path d="M1046.7 322.8 L1048.5 318.6 L1055.3 324.7 L1050.9 326.5 Z" fill="#BEBEBE"/>
<path d="M1055.3 324.7 L1055.3 331.5 L1050.9 326.5 Z" fill="#A8A8A8"/>
<path d="M1032.0 331.5 L1036.7 326.5 L1050.9 326.5 L1055.3 331.5 Z" fill="#AEAEAE"/>
<path d="M1093.4 317.9 L1098.1 322.2 L1108.1 322.1 L1110.0 317.9 L1116.7 323.9 L1116.7 330.8 L1093.4 330.8 Z" fill="#C8C8C8"/>
<path d="M1093.4 317.9 L1098.1 322.2 L1098.1 325.8 L1093.4 330.8 Z" fill="#DADADA"/>
<path d="M1098.1 322.2 L1108.1 322.1 L1112.3 325.8 L1098.1 325.8 Z" fill="#E5E5E5"/>
<path d="M1108.1 322.1 L1110.0 317.9 L1116.7 323.9 L1112.3 325.8 Z" fill="#BEBEBE"/>
<path d="M1116.7 323.9 L1116.7 330.8 L1112.3 325.8 Z" fill="#A8A8A8"/>
<path d="M1093.4 330.8 L1098.1 325.8 L1112.3 325.8 L1116.7 330.8 Z" fill="#AEAEAE"/>
<path d="M1013.1 346.4 L1017.8 350.8 L1027.8 350.6 L1029.7 346.4 L1036.4 352.4 L1036.4 359.3 L1013.1 359.3 Z" fill="#C8C8C8"/>
<path d="M1013.1 346.4 L1017.8 350.8 L1017.8 354.3 L1013.1 359.3 Z" fill="#DADADA"/>
<path d="M1017.8 350.8 L1027.8 350.6 L1032.0 354.3 L1017.8 354.3 Z" fill="#E5E5E5"/>
<path d="M1027.8 350.6 L1029.7 346.4 L1036.4 352.4 L1032.0 354.3 Z" fill="#BEBEBE"/>
<path d="M1036.4 352.4 L1036.4 359.3 L1032.0 354.3 Z" fill="#A8A8A8"/>
<path d="M1013.1 359.3 L1017.8 354.3 L1032.0 354.3 L1036.4 359.3 Z" fill="#AEAEAE"/>
<path d="M1047.2 345.6 L1051.9 350.0 L1061.9 349.8 L1063.8 345.6 L1070.5 351.7 L1070.5 358.5 L1047.2 358.5 Z" fill="#C8C8C8"/>
<path d="M1047.2 345.6 L1051.9 350.0 L1051.9 353.5 L1047.2 358.5 Z" fill="#DADADA"/>
<path d="M1051.9 350.0 L1061.9 349.8 L1066.1 353.5 L1051.9 353.5 Z" fill="#E5E5E5"/>
<path d="M1061.9 349.8 L1063.8 345.6 L1070.5 351.7 L1066.1 353.5 Z" fill="#BEBEBE"/>
<path d="M1070.5 351.7 L1070.5 358.5 L1066.1 353.5 Z" fill="#A8A8A8"/>
<path d="M1047.2 358.5 L1051.9 353.5 L1066.1 353.5 L1070.5 358.5 Z" fill="#AEAEAE"/>
<path d="M1087.1 346.4 L1091.8 350.8 L1101.8 350.6 L1103.6 346.4 L1110.4 352.4 L1110.4 359.3 L1087.1 359.3 Z" fill="#C8C8C8"/>
<path d="M1087.1 346.4 L1091.8 350.8 L1091.8 354.3 L1087.1 359.3 Z" fill="#DADADA"/>
<path d="M1091.8 350.8 L1101.8 350.6 L1106.0 354.3 L1091.8 354.3 Z" fill="#E5E5E5"/>
<path d="M1101.8 350.6 L1103.6 346.4 L1110.4 352.4 L1106.0 354.3 Z" fill="#BEBEBE"/>
<path d="M1110.4 352.4 L1110.4 359.3 L1106.0 354.3 Z" fill="#A8A8A8"/>
<path d="M1087.1 359.3 L1091.8 354.3 L1106.0 354.3 L1110.4 359.3 Z" fill="#AEAEAE"/>
<path d="M1065.3 364.9 L1070.0 369.2 L1080.0 369.1 L1081.8 364.9 L1088.6 370.9 L1088.6 377.8 L1065.3 377.8 Z" fill="#C8C8C8"/>
<path d="M1065.3 364.9 L1070.0 369.2 L1070.0 372.8 L1065.3 377.8 Z" fill="#DADADA"/>
<path d="M1070.0 369.2 L1080.0 369.1 L1084.2 372.8 L1070.0 372.8 Z" fill="#E5E5E5"/>
<path d="M1080.0 369.1 L1081.8 364.9 L1088.6 370.9 L1084.2 372.8 Z" fill="#BEBEBE"/>
<path d="M1088.6 370.9 L1088.6 377.8 L1084.2 372.8 Z" fill="#A8A8A8"/>
<path d="M1065.3 377.8 L1070.0 372.8 L1084.2 372.8 L1088.6 377.8 Z" fill="#AEAEAE"/>
<path d="M1001.0 374.1 L1005.7 378.5 L1015.7 378.3 L1017.5 374.1 L1024.3 380.2 L1024.3 387.0 L1001.0 387.0 Z" fill="#C8C8C8"/>
<path d="M1001.0 374.1 L1005.7 378.5 L1005.7 382.0 L1001.0 387.0 Z" fill="#DADADA"/>
<path d="M1005.7 378.5 L1015.7 378.3 L1019.9 382.0 L1005.7 382.0 Z" fill="#E5E5E5"/>
<path d="M1015.7 378.3 L1017.5 374.1 L1024.3 380.2 L1019.9 382.0 Z" fill="#BEBEBE"/>
<path d="M1024.3 380.2 L1024.3 387.0 L1019.9 382.0 Z" fill="#A8A8A8"/>
<path d="M1001.0 387.0 L1005.7 382.0 L1019.9 382.0 L1024.3 387.0 Z" fill="#AEAEAE"/>
<path d="M1033.8 376.0 L1038.5 380.4 L1048.5 380.2 L1050.3 376.0 L1057.1 382.1 L1057.1 388.9 L1033.8 388.9 Z" fill="#C8C8C8"/>
<path d="M1033.8 376.0 L1038.5 380.4 L1038.5 383.9 L1033.8 388.9 Z" fill="#DADADA"/>
<path d="M1038.5 380.4 L1048.5 380.2 L1052.7 383.9 L1038.5 383.9 Z" fill="#E5E5E5"/>
<path d="M1048.5 380.2 L1050.3 376.0 L1057.1 382.1 L1052.7 383.9 Z" fill="#BEBEBE"/>
<path d="M1057.1 382.1 L1057.1 388.9 L1052.7 383.9 Z" fill="#A8A8A8"/>
<path d="M1033.8 388.9 L1038.5 383.9 L1052.7 383.9 L1057.1 388.9 Z" fill="#AEAEAE"/>
<path d="M1094.5 375.2 L1099.2 379.6 L1109.2 379.4 L1111.0 375.2 L1117.8 381.2 L1117.8 388.1 L1094.5 388.1 Z" fill="#C8C8C8"/>
<path d="M1094.5 375.2 L1099.2 379.6 L1099.2 383.1 L1094.5 388.1 Z" fill="#DADADA"/>
<path d="M1099.2 379.6 L1109.2 379.4 L1113.4 383.1 L1099.2 383.1 Z" fill="#E5E5E5"/>
<path d="M1109.2 379.4 L1111.0 375.2 L1117.8 381.2 L1113.4 383.1 Z" fill="#BEBEBE"/>
<path d="M1117.8 381.2 L1117.8 388.1 L1113.4 383.1 Z" fill="#A8A8A8"/>
<path d="M1094.5 388.1 L1099.2 383.1 L1113.4 383.1 L1117.8 388.1 Z" fill="#AEAEAE"/>
<path d="M1056.8 392.6 L1061.5 397.0 L1071.5 396.8 L1073.3 392.6 L1080.1 398.7 L1080.1 405.5 L1056.8 405.5 Z" fill="#C8C8C8"/>
<path d="M1056.8 392.6 L1061.5 397.0 L1061.5 400.5 L1056.8 405.5 Z" fill="#DADADA"/>
<path d="M1061.5 397.0 L1071.5 396.8 L1075.7 400.5 L1061.5 400.5 Z" fill="#E5E5E5"/>
<path d="M1071.5 396.8 L1073.3 392.6 L1080.1 398.7 L1075.7 400.5 Z" fill="#BEBEBE"/>
<path d="M1080.1 398.7 L1080.1 405.5 L1075.7 400.5 Z" fill="#A8A8A8"/>
<path d="M1056.8 405.5 L1061.5 400.5 L1075.7 400.5 L1080.1 405.5 Z" fill="#AEAEAE"/>
<path d="M1009.0 398.9 L1013.7 403.2 L1023.7 403.1 L1025.5 398.9 L1032.3 404.9 L1032.3 411.8 L1009.0 411.8 Z" fill="#C8C8C8"/>
<path d="M1009.0 398.9 L1013.7 403.2 L1013.7 406.8 L1009.0 411.8 Z" fill="#DADADA"/>
<path d="M1013.7 403.2 L1023.7 403.1 L1027.9 406.8 L1013.7 406.8 Z" fill="#E5E5E5"/>
<path d="M1023.7 403.1 L1025.5 398.9 L1032.3 404.9 L1027.9 406.8 Z" fill="#BEBEBE"/>
<path d="M1032.3 404.9 L1032.3 411.8 L1027.9 406.8 Z" fill="#A8A8A8"/>
<path d="M1009.0 411.8 L1013.7 406.8 L1027.9 406.8 L1032.3 411.8 Z" fill="#AEAEAE"/>
<path d="M1096.3 398.9 L1101.0 403.2 L1111.0 403.1 L1112.8 398.9 L1119.6 404.9 L1119.6 411.8 L1096.3 411.8 Z" fill="#C8C8C8"/>
<path d="M1096.3 398.9 L1101.0 403.2 L1101.0 406.8 L1096.3 411.8 Z" fill="#DADADA"/>
<path d="M1101.0 403.2 L1111.0 403.1 L1115.2 406.8 L1101.0 406.8 Z" fill="#E5E5E5"/>
<path d="M1111.0 403.1 L1112.8 398.9 L1119.6 404.9 L1115.2 406.8 Z" fill="#BEBEBE"/>
<path d="M1119.6 404.9 L1119.6 411.8 L1115.2 406.8 Z" fill="#A8A8A8"/>
<path d="M1096.3 411.8 L1101.0 406.8 L1115.2 406.8 L1119.6 411.8 Z" fill="#AEAEAE"/>
<path d="M1036.4 416.6 L1041.1 421.0 L1051.1 420.8 L1053.0 416.6 L1059.7 422.7 L1059.7 429.5 L1036.4 429.5 Z" fill="#C8C8C8"/>
<path d="M1036.4 416.6 L1041.1 421.0 L1041.1 424.5 L1036.4 429.5 Z" fill="#DADADA"/>
<path d="M1041.1 421.0 L1051.1 420.8 L1055.3 424.5 L1041.1 424.5 Z" fill="#E5E5E5"/>
<path d="M1051.1 420.8 L1053.0 416.6 L1059.7 422.7 L1055.3 424.5 Z" fill="#BEBEBE"/>
<path d="M1059.7 422.7 L1059.7 429.5 L1055.3 424.5 Z" fill="#A8A8A8"/>
<path d="M1036.4 429.5 L1041.1 424.5 L1055.3 424.5 L1059.7 429.5 Z" fill="#AEAEAE"/>
<path d="M1072.7 414.8 L1077.4 419.2 L1087.4 419.0 L1089.2 414.8 L1096.0 420.9 L1096.0 427.7 L1072.7 427.7 Z" fill="#C8C8C8"/>
<path d="M1072.7 414.8 L1077.4 419.2 L1077.4 422.7 L1072.7 427.7 Z" fill="#DADADA"/>
<path d="M1077.4 419.2 L1087.4 419.0 L1091.6 422.7 L1077.4 422.7 Z" fill="#E5E5E5"/>
<path d="M1087.4 419.0 L1089.2 414.8 L1096.0 420.9 L1091.6 422.7 Z" fill="#BEBEBE"/>
<path d="M1096.0 420.9 L1096.0 427.7 L1091.6 422.7 Z" fill="#A8A8A8"/>
<path d="M1072.7 427.7 L1077.4 422.7 L1091.6 422.7 L1096.0 427.7 Z" fill="#AEAEAE"/>
<path d="M921.8 293.1 L930.9 283.5 L952.8 283.5 L952.8 301.3 L921.8 301.3 Z" fill="#92D050"/>
<path d="M930.9 283.5 L952.8 283.5 L946.7 289.9 L933.8 289.9 Z" fill="#A2DE5A"/>
<path d="M921.8 293.1 L930.9 283.5 L933.8 289.9 L926.8 295.8 Z" fill="#9AD854"/>
<path d="M921.8 293.1 L926.8 295.8 L921.8 301.3 Z" fill="#90D250"/>
<path d="M926.8 295.8 L933.8 289.9 L946.7 289.9 L946.7 295.8 Z" fill="#8DCD4C"/>
<path d="M952.8 283.5 L952.8 301.3 L946.7 295.8 L946.7 289.9 Z" fill="#78B143"/>
<path d="M921.8 301.3 L926.8 295.8 L946.7 295.8 L952.8 301.3 Z" fill="#7AB444"/>
<path d="M960.6 297.2 L969.7 287.6 L991.6 287.6 L991.6 305.4 L960.6 305.4 Z" fill="#92D050"/>
<path d="M969.7 287.6 L991.6 287.6 L985.5 294.0 L972.6 294.0 Z" fill="#A2DE5A"/>
<path d="M960.6 297.2 L969.7 287.6 L972.6 294.0 L965.6 299.9 Z" fill="#9AD854"/>
<path d="M960.6 297.2 L965.6 299.9 L960.6 305.4 Z" fill="#90D250"/>
<path d="M965.6 299.9 L972.6 294.0 L985.5 294.0 L985.5 299.9 Z" fill="#8DCD4C"/>
<path d="M991.6 287.6 L991.6 305.4 L985.5 299.9 L985.5 294.0 Z" fill="#78B143"/>
<path d="M960.6 305.4 L965.6 299.9 L985.5 299.9 L991.6 305.4 Z" fill="#7AB444"/>
<path d="M899.6 323.4 L908.7 313.8 L930.6 313.8 L930.6 331.6 L899.6 331.6 Z" fill="#92D050"/>
<path d="M908.7 313.8 L930.6 313.8 L924.5 320.2 L911.6 320.2 Z" fill="#A2DE5A"/>
<path d="M899.6 323.4 L908.7 313.8 L911.6 320.2 L904.6 326.1 Z" fill="#9AD854"/>
<path d="M899.6 323.4 L904.6 326.1 L899.6 331.6 Z" fill="#90D250"/>
<path d="M904.6 326.1 L911.6 320.2 L924.5 320.2 L924.5 326.1 Z" fill="#8DCD4C"/>
<path d="M930.6 313.8 L930.6 331.6 L924.5 326.1 L924.5 320.2 Z" fill="#78B143"/>
<path d="M899.6 331.6 L904.6 326.1 L924.5 326.1 L930.6 331.6 Z" fill="#7AB444"/>
<path d="M940.3 328.2 L949.4 318.6 L971.3 318.6 L971.3 336.4 L940.3 336.4 Z" fill="#92D050"/>
<path d="M949.4 318.6 L971.3 318.6 L965.2 325.0 L952.3 325.0 Z" fill="#A2DE5A"/>
<path d="M940.3 328.2 L949.4 318.6 L952.3 325.0 L945.3 330.9 Z" fill="#9AD854"/>
<path d="M940.3 328.2 L945.3 330.9 L940.3 336.4 Z" fill="#90D250"/>
<path d="M945.3 330.9 L952.3 325.0 L965.2 325.0 L965.2 330.9 Z" fill="#8DCD4C"/>
<path d="M971.3 318.6 L971.3 336.4 L965.2 330.9 L965.2 325.0 Z" fill="#78B143"/>
<path d="M940.3 336.4 L945.3 330.9 L965.2 330.9 L971.3 336.4 Z" fill="#7AB444"/>
<path d="M920.0 355.2 L929.1 345.6 L951.0 345.6 L951.0 363.4 L920.0 363.4 Z" fill="#92D050"/>
<path d="M929.1 345.6 L951.0 345.6 L944.9 352.0 L932.0 352.0 Z" fill="#A2DE5A"/>
<path d="M920.0 355.2 L929.1 345.6 L932.0 352.0 L925.0 357.9 Z" fill="#9AD854"/>
<path d="M920.0 355.2 L925.0 357.9 L920.0 363.4 Z" fill="#90D250"/>
<path d="M925.0 357.9 L932.0 352.0 L944.9 352.0 L944.9 357.9 Z" fill="#8DCD4C"/>
<path d="M951.0 345.6 L951.0 363.4 L944.9 357.9 L944.9 352.0 Z" fill="#78B143"/>
<path d="M920.0 363.4 L925.0 357.9 L944.9 357.9 L951.0 363.4 Z" fill="#7AB444"/>
<path d="M959.1 359.6 L968.2 350.0 L990.1 350.0 L990.1 367.8 L959.1 367.8 Z" fill="#92D050"/>
<path d="M968.2 350.0 L990.1 350.0 L984.0 356.4 L971.1 356.4 Z" fill="#A2DE5A"/>
<path d="M959.1 359.6 L968.2 350.0 L971.1 356.4 L964.1 362.3 Z" fill="#9AD854"/>
<path d="M959.1 359.6 L964.1 362.3 L959.1 367.8 Z" fill="#90D250"/>
<path d="M964.1 362.3 L971.1 356.4 L984.0 356.4 L984.0 362.3 Z" fill="#8DCD4C"/>
<path d="M990.1 350.0 L990.1 367.8 L984.0 362.3 L984.0 356.4 Z" fill="#78B143"/>
<path d="M959.1 367.8 L964.1 362.3 L984.0 362.3 L990.1 367.8 Z" fill="#7AB444"/>
<path d="M898.5 385.6 L907.6 376.0 L929.5 376.0 L929.5 393.8 L898.5 393.8 Z" fill="#92D050"/>
<path d="M907.6 376.0 L929.5 376.0 L923.4 382.4 L910.5 382.4 Z" fill="#A2DE5A"/>
<path d="M898.5 385.6 L907.6 376.0 L910.5 382.4 L903.5 388.3 Z" fill="#9AD854"/>
<path d="M898.5 385.6 L903.5 388.3 L898.5 393.8 Z" fill="#90D250"/>
<path d="M903.5 388.3 L910.5 382.4 L923.4 382.4 L923.4 388.3 Z" fill="#8DCD4C"/>
<path d="M929.5 376.0 L929.5 393.8 L923.4 388.3 L923.4 382.4 Z" fill="#78B143"/>
<path d="M898.5 393.8 L903.5 388.3 L923.4 388.3 L929.5 393.8 Z" fill="#7AB444"/>
<path d="M938.4 390.7 L947.5 381.1 L969.4 381.1 L969.4 398.9 L938.4 398.9 Z" fill="#92D050"/>
<path d="M947.5 381.1 L969.4 381.1 L963.3 387.5 L950.4 387.5 Z" fill="#A2DE5A"/>
<path d="M938.4 390.7 L947.5 381.1 L950.4 387.5 L943.4 393.4 Z" fill="#9AD854"/>
<path d="M938.4 390.7 L943.4 393.4 L938.4 398.9 Z" fill="#90D250"/>
<path d="M943.4 393.4 L950.4 387.5 L963.3 387.5 L963.3 393.4 Z" fill="#8DCD4C"/>
<path d="M969.4 381.1 L969.4 398.9 L963.3 393.4 L963.3 387.5 Z" fill="#78B143"/>
<path d="M938.4 398.9 L943.4 393.4 L963.3 393.4 L969.4 398.9 Z" fill="#7AB444"/>
<path d="M900.3 418.8 L909.4 409.2 L931.3 409.2 L931.3 427.0 L900.3 427.0 Z" fill="#92D050"/>
<path d="M909.4 409.2 L931.3 409.2 L925.2 415.6 L912.3 415.6 Z" fill="#A2DE5A"/>
<path d="M900.3 418.8 L909.4 409.2 L912.3 415.6 L905.3 421.5 Z" fill="#9AD854"/>
<path d="M900.3 418.8 L905.3 421.5 L900.3 427.0 Z" fill="#90D250"/>
<path d="M905.3 421.5 L912.3 415.6 L925.2 415.6 L925.2 421.5 Z" fill="#8DCD4C"/>
<path d="M931.3 409.2 L931.3 427.0 L925.2 421.5 L925.2 415.6 Z" fill="#78B143"/>
<path d="M900.3 427.0 L905.3 421.5 L925.2 421.5 L931.3 427.0 Z" fill="#7AB444"/>
<path d="M957.0 417.0 L966.1 407.4 L988.0 407.4 L988.0 425.2 L957.0 425.2 Z" fill="#92D050"/>
<path d="M966.1 407.4 L988.0 407.4 L981.9 413.8 L969.0 413.8 Z" fill="#A2DE5A"/>
<path d="M957.0 417.0 L966.1 407.4 L969.0 413.8 L962.0 419.7 Z" fill="#9AD854"/>
<path d="M957.0 417.0 L962.0 419.7 L957.0 425.2 Z" fill="#90D250"/>
<path d="M962.0 419.7 L969.0 413.8 L981.9 413.8 L981.9 419.7 Z" fill="#8DCD4C"/>
<path d="M988.0 407.4 L988.0 425.2 L981.9 419.7 L981.9 413.8 Z" fill="#78B143"/>
<path d="M957.0 425.2 L962.0 419.7 L981.9 419.7 L988.0 425.2 Z" fill="#7AB444"/>
<path d="M586.7 215 V253.6 H836.6 V215" stroke="#000" stroke-width="2.2" fill="none" stroke-linejoin="miter"/>
<path d="M586.7 206.6 L590.9 218.1 L586.7 214.7 L582.5 218.1 Z" fill="#000"/>
<path d="M836.6 207.0 L840.8 218.5 L836.6 215.1 L832.4 218.5 Z" fill="#000"/>
<path d="M696.1 253.6 V286.5" stroke="#000" stroke-width="2.3" fill="none"/>
<circle cx="694.8" cy="297" r="10.4" fill="none" stroke="#000" stroke-width="2.9"/>
<text x="609.0" y="209.6" font-family='"Liberation Serif", "Times New Roman", serif' font-size="21.2" font-weight="bold" fill="#000" text-anchor="start" stroke="#000" stroke-width="0.15" textLength="212.6" lengthAdjust="spacingAndGlyphs" >FNS (micelle or vesicle)</text>
<path d="M211.8 481.9 L224.8 468.2 L256.0 468.2 L256.0 493.6 L211.8 493.6 Z" fill="#92D050"/>
<path d="M224.8 468.2 L256.0 468.2 L247.3 477.3 L228.9 477.3 Z" fill="#A2DE5A"/>
<path d="M211.8 481.9 L224.8 468.2 L228.9 477.3 L218.9 485.7 Z" fill="#9AD854"/>
<path d="M211.8 481.9 L218.9 485.7 L211.8 493.6 Z" fill="#90D250"/>
<path d="M218.9 485.7 L228.9 477.3 L247.3 477.3 L247.3 485.7 Z" fill="#8DCD4C"/>
<path d="M256.0 468.2 L256.0 493.6 L247.3 485.7 L247.3 477.3 Z" fill="#78B143"/>
<path d="M211.8 493.6 L218.9 485.7 L247.3 485.7 L256.0 493.6 Z" fill="#7AB444"/>
<path d="M651.2 469.4 L660.0 477.6 L678.9 477.3 L682.3 469.4 L695.0 480.8 L695.0 493.7 L651.2 493.7 Z" fill="#C8C8C8"/>
<path d="M651.2 469.4 L660.0 477.6 L660.0 484.2 L651.2 493.7 Z" fill="#DADADA"/>
<path d="M660.0 477.6 L678.9 477.3 L686.7 484.2 L660.0 484.2 Z" fill="#E5E5E5"/>
<path d="M678.9 477.3 L682.3 469.4 L695.0 480.8 L686.7 484.2 Z" fill="#BEBEBE"/>
<path d="M695.0 480.8 L695.0 493.7 L686.7 484.2 Z" fill="#A8A8A8"/>
<path d="M651.2 493.7 L660.0 484.2 L686.7 484.2 L695.0 493.7 Z" fill="#AEAEAE"/>
<text x="281.8" y="493.2" font-family='"Liberation Serif", "Times New Roman", serif' font-size="24" font-weight="bold" fill="#000" stroke="#000" stroke-width="0.15" textLength="316.6" lengthAdjust="spacingAndGlyphs"><tspan font-style="italic">S</tspan>-crystal, ee ~94%, fluorescent</text>
<text x="720.7" y="491.4" font-family='"Liberation Serif", "Times New Roman", serif' font-size="24" font-weight="bold" fill="#000" stroke="#000" stroke-width="0.15" textLength="365.8" lengthAdjust="spacingAndGlyphs"><tspan font-style="italic">R</tspan>-Crystal, ee &gt;99%, nonfluorescent</text>
<rect x="853.9" y="79.6" width="40.1" height="10.4" fill="none" stroke="#000" stroke-width="2.3"/>
<path d="M895 84.4 L938 84.0" stroke="#000" stroke-width="2.0" fill="none"/>
<path d="M945.8 83.9 L933.8 87.7 L937.4 83.9 L933.8 80.1 Z" fill="#000"/>
<rect x="914.0" y="8.6" width="310.4" height="188.0" fill="none" stroke="#000" stroke-width="2.0"/>
<text x="917.4" y="49.5" font-family='"Liberation Sans", Arial, sans-serif' font-size="13" font-weight="bold" fill="#EE8139" text-anchor="start" textLength="39.2" lengthAdjust="spacingAndGlyphs" >HOOC</text>
<path d="M958.4 40.6 L969.5 34.8 L981.8 45.3 L993.5 37.1" fill="none" stroke="#EE8139" stroke-width="2.55" stroke-linecap="round" stroke-linejoin="round" />
<text x="989.2" y="22.9" font-family='"Liberation Sans", Arial, sans-serif' font-size="13" font-weight="bold" fill="#EE8139" text-anchor="start" textLength="17.6" lengthAdjust="spacingAndGlyphs" >CN</text>
<path d="M993.5 37.1 L993.5 26.0" fill="none" stroke="#EE8139" stroke-width="2.55" stroke-linecap="round" stroke-linejoin="round" />
<path d="M993.5 37.1 L1010.4 28.1" fill="none" stroke="#EE8139" stroke-width="2.55" stroke-linecap="round" stroke-linejoin="round" />
<path d="M993.5 37.1 L1020.9 53.2 L1039.8 52.9" fill="none" stroke="#EE8139" stroke-width="2.55" stroke-linecap="round" stroke-linejoin="round" />
<path d="M1039.8 52.9 L1039.8 33.7" fill="none" stroke="#EE8139" stroke-width="2.55" stroke-linecap="round" stroke-linejoin="round" />
<path d="M1039.8 52.9 L1093.5 42.8" fill="none" stroke="#EE8139" stroke-width="2.55" stroke-linecap="round" stroke-linejoin="round" />
<path d="M1093.5 42.8 L1110.5 52.4 L1142.2 36.0" fill="none" stroke="#1E8CF0" stroke-width="2.75" stroke-linecap="round" stroke-linejoin="round" />
<path d="M1006.9 35.4 Q1001.3 46.9 1006.9 58.4" fill="none" stroke="#EE8139" stroke-width="2.55" stroke-linecap="round"/>
<path d="M1058.8 36.4 Q1064.6 47.6 1058.8 58.8" fill="none" stroke="#EE8139" stroke-width="2.55" stroke-linecap="round"/>
<text x="1067.5" y="58.9" font-family='"Liberation Sans", Arial, sans-serif' font-size="12" font-weight="bold" fill="#EE8139" text-anchor="start" >m</text>
<path d="M1083.8 30.2 Q1076.2 43.6 1083.8 57.0" fill="none" stroke="#1E8CF0" stroke-width="2.8499999999999996" stroke-linecap="round"/>
<path d="M1124.4 30.6 Q1131.6 44.0 1124.4 57.4" fill="none" stroke="#1E8CF0" stroke-width="2.8499999999999996" stroke-linecap="round"/>
<text x="1131.5" y="60.1" font-family='"Liberation Sans", Arial, sans-serif' font-size="12" font-weight="bold" fill="#1E8CF0" text-anchor="start" >n</text>
<text x="1144.6" y="37.7" font-family='"Liberation Sans", Arial, sans-serif' font-size="13" font-weight="bold" fill="#1E8CF0" text-anchor="start" >S</text>
<path d="M1155.6 37.2 L1166.1 43.0" fill="none" stroke="#1E8CF0" stroke-width="2.75" stroke-linecap="round" stroke-linejoin="round" />
<path d="M1163.2 41.3 L1176.0 34.3" fill="none" stroke="#1E8CF0" stroke-width="2.75" stroke-linecap="round" stroke-linejoin="round" />
<path d="M1166.7 45.6 L1179.0 39.5" fill="none" stroke="#1E8CF0" stroke-width="2.75" stroke-linecap="round" stroke-linejoin="round" />
<text x="1179.6" y="38.3" font-family='"Liberation Sans", Arial, sans-serif' font-size="13" font-weight="bold" fill="#1E8CF0" text-anchor="start" >S</text>
<path d="M1166.1 44.2 L1166.1 56.4" fill="none" stroke="#1E8CF0" stroke-width="2.75" stroke-linecap="round" stroke-linejoin="round" />
<text x="1161.6" y="67.8" font-family='"Liberation Sans", Arial, sans-serif' font-size="13" font-weight="bold" fill="#1E8CF0" text-anchor="start" >S</text>
<path d="M1172.5 67.8 L1176.6 70.1" fill="none" stroke="#1E8CF0" stroke-width="2.75" stroke-linecap="round" stroke-linejoin="round" />
<text x="1178.4" y="78.2" font-family='"Liberation Sans", Arial, sans-serif' font-size="13" font-weight="bold" fill="#1E8CF0">C<tspan font-size="10" dy="3">12</tspan><tspan dy="-3">H</tspan><tspan font-size="10" dy="3">25</tspan></text>
<path d="M1110.5 52.4 L1110.2 72.0" fill="none" stroke="#1E8CF0" stroke-width="2.75" stroke-linecap="round" stroke-linejoin="round" />
<path d="M1109.9 72.1 L1127.0 82.0 L1127.0 101.6 L1109.9 111.5 L1092.8 101.6 L1092.8 81.9 Z" fill="none" stroke="#1E8CF0" stroke-width="2.75" stroke-linejoin="round"/>
<path d="M1110.6 80.1 L1119.7 85.4" fill="none" stroke="#1E8CF0" stroke-width="2.75" stroke-linecap="butt" stroke-linejoin="round" />
<path d="M1119.7 98.2 L1110.6 103.5" fill="none" stroke="#1E8CF0" stroke-width="2.75" stroke-linecap="butt" stroke-linejoin="round" />
<path d="M1099.4 97.0 L1099.4 86.5" fill="none" stroke="#1E8CF0" stroke-width="2.75" stroke-linecap="butt" stroke-linejoin="round" />
<path d="M1039.8 52.9 L1048.4 67.6" fill="none" stroke="#EE8139" stroke-width="2.55" stroke-linecap="round" stroke-linejoin="round" />
<path d="M1048.4 67.6 L1062.0 67.6" fill="none" stroke="#EE8139" stroke-width="2.55" stroke-linecap="round" stroke-linejoin="round" />
<path d="M1050.0 74.4 L1062.0 74.4" fill="none" stroke="#EE8139" stroke-width="2.55" stroke-linecap="round" stroke-linejoin="round" />
<text x="1063.6" y="75.8" font-family='"Liberation Sans", Arial, sans-serif' font-size="13" font-weight="bold" fill="#EE8139" text-anchor="start" >O</text>
<path d="M1048.4 67.6 L1050.0 72.0 L1044.6 80.6" fill="none" stroke="#EE8139" stroke-width="2.55" stroke-linecap="round" stroke-linejoin="round" />
<text x="1024.8" y="91.6" font-family='"Liberation Sans", Arial, sans-serif' font-size="13" font-weight="bold" fill="#EE8139" text-anchor="start" textLength="18.0" lengthAdjust="spacingAndGlyphs" >HN</text>
<path d="M1043.7 95.0 L1048.9 103.8 L1038.8 120.5 L1048.9 137.0 L1038.8 153.6 L1048.5 170.7 L1042.9 181.0" fill="none" stroke="#EE8139" stroke-width="2.55" stroke-linecap="round" stroke-linejoin="round" />
<path d="M1051.2 171.0 H1060.4" stroke="#EE8139" stroke-width="2.3" stroke-dasharray="1.7 0.8" fill="none"/>
<text x="1061.8" y="176.1" font-family='"Liberation Sans", Arial, sans-serif' font-size="13" font-weight="bold" fill="#EE8139">NH<tspan font-size="10" dy="3">3</tspan><tspan font-size="10" dy="-8.6">+</tspan><tspan dy="5.6">Cl</tspan><tspan font-size="10" dy="-5.4">-</tspan></text>
<text x="1002.6" y="191.7" font-family='"Liberation Sans", Arial, sans-serif' font-size="13" font-weight="bold" fill="#EE8139" text-anchor="start" textLength="38.8" lengthAdjust="spacingAndGlyphs" >HOOC</text>
</svg>
</body></html>
